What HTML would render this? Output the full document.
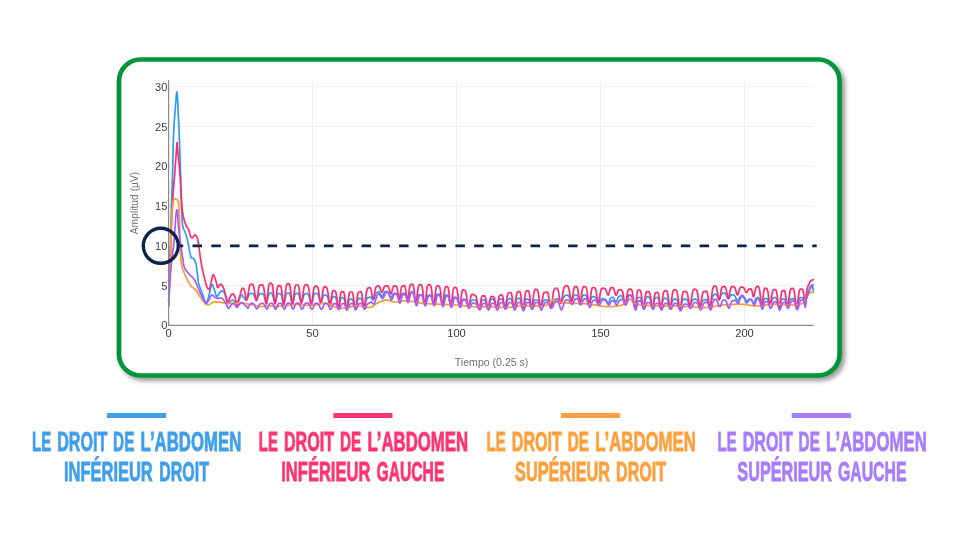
<!DOCTYPE html>
<html lang="fr"><head><meta charset="utf-8"><title>EMG</title>
<style>
html,body{margin:0;padding:0;background:#fff;}
body{width:960px;height:540px;overflow:hidden;position:relative;font-family:"Liberation Sans",sans-serif;}
svg{position:absolute;left:0;top:0;display:block}
.tick{font-family:"Liberation Sans",sans-serif;font-size:10.7px;fill:#3c3c3c}
.ttl{font-family:"Liberation Sans",sans-serif;font-size:10.3px;fill:#707070}
.leg{font-family:"Liberation Sans",sans-serif;font-weight:700;font-size:26.8px;stroke-width:0.8px}
</style></head><body>
<svg width="960" height="540" viewBox="0 0 960 540">
<defs>
<filter id="sh" x="-5%" y="-5%" width="112%" height="115%"><feGaussianBlur in="SourceAlpha" stdDeviation="2.7"/><feOffset dx="3.4" dy="3.4"/><feComponentTransfer><feFuncA type="linear" slope="0.42"/></feComponentTransfer><feMerge><feMergeNode/><feMergeNode in="SourceGraphic"/></feMerge></filter>
</defs>
<rect x="119" y="59.5" width="720.6" height="316" rx="21.5" ry="21.5" fill="#fff" stroke="#04953a" stroke-width="4.7" filter="url(#sh)"/>
<g stroke="#efefef" stroke-width="1"><line x1="169" x2="814" y1="285.5" y2="285.5"/><line x1="169" x2="814" y1="206.0" y2="206.0"/><line x1="169" x2="814" y1="166.2" y2="166.2"/><line x1="169" x2="814" y1="126.5" y2="126.5"/><line x1="169" x2="814" y1="86.7" y2="86.7"/><line x1="312.5" x2="312.5" y1="80.5" y2="325"/><line x1="456.5" x2="456.5" y1="80.5" y2="325"/><line x1="600.5" x2="600.5" y1="80.5" y2="325"/><line x1="744.5" x2="744.5" y1="80.5" y2="325"/></g>
<g fill="none" stroke-width="1.7" stroke-linejoin="round" stroke-linecap="round">
<path d="M168.7 301.0 L168.8 297.9 L169.0 293.9 L169.2 288.9 L169.4 283.3 L169.6 276.9 L169.8 270.0 L170.0 262.0 L170.2 252.9 L170.5 243.1 L170.7 233.1 L171.0 223.6 L171.2 215.0 L171.4 207.3 L171.7 200.0 L171.9 193.1 L172.1 186.7 L172.3 180.6 L172.5 175.0 L172.6 169.9 L172.8 165.4 L172.8 161.2 L172.9 157.4 L173.0 153.7 L173.1 150.0 L173.2 146.4 L173.3 142.9 L173.4 139.6 L173.5 136.3 L173.6 133.2 L173.8 130.0 L173.9 126.8 L174.1 123.7 L174.3 120.7 L174.6 117.7 L174.8 114.8 L175.0 112.0 L175.2 109.3 L175.4 106.6 L175.6 104.0 L175.8 101.5 L176.0 99.4 L176.2 97.5 L176.3 95.9 L176.5 94.6 L176.6 93.4 L176.7 92.6 L176.8 92.1 L176.9 91.9 L177.0 92.1 L177.1 92.6 L177.2 93.4 L177.3 94.6 L177.4 95.9 L177.5 97.5 L177.6 99.4 L177.7 101.5 L177.8 104.0 L178.0 106.6 L178.1 109.3 L178.2 112.0 L178.3 114.7 L178.5 117.5 L178.6 120.3 L178.7 123.4 L178.9 126.6 L179.0 130.0 L179.2 133.8 L179.3 137.8 L179.5 142.1 L179.7 146.4 L179.8 150.8 L180.0 155.0 L180.1 159.2 L180.3 163.3 L180.4 167.5 L180.5 171.7 L180.7 175.8 L180.8 180.0 L180.9 184.2 L181.1 188.5 L181.2 192.8 L181.3 197.0 L181.5 201.1 L181.6 205.0 L181.7 208.8 L181.9 212.6 L182.0 216.2 L182.1 219.6 L182.3 222.5 L182.5 225.0 L182.8 226.8 L183.1 228.0 L183.4 228.9 L183.8 229.5 L184.1 230.2 L184.5 231.0 L184.9 231.9 L185.2 232.8 L185.6 233.6 L186.0 234.5 L186.3 235.5 L186.7 236.7 L187.1 238.2 L187.4 239.8 L187.8 241.6 L188.1 243.4 L188.5 245.3 L188.8 247.0 L189.1 248.7 L189.5 250.6 L189.8 252.4 L190.2 254.1 L190.5 255.6 L190.8 256.7 L191.1 257.4 L191.3 257.8 L191.5 257.9 L191.8 257.9 L192.0 257.9 L192.2 258.0 L192.4 258.1 L192.6 258.1 L192.8 258.1 L193.1 258.1 L193.3 258.3 L193.6 258.6 L193.9 259.1 L194.3 259.7 L194.7 260.4 L195.1 261.3 L195.5 262.2 L195.8 263.3 L196.1 264.5 L196.3 265.9 L196.6 267.3 L196.8 268.9 L197.0 270.4 L197.2 272.0 L197.4 273.6 L197.6 275.3 L197.7 277.0 L197.9 278.7 L198.1 280.3 L198.3 281.7 L198.5 282.9 L198.8 284.0 L199.1 284.9 L199.4 285.8 L199.7 286.7 L200.0 287.5 L200.3 288.3 L200.6 288.9 L200.8 289.6 L201.1 290.2 L201.4 290.9 L201.7 291.7 L202.0 292.6 L202.4 293.7 L202.7 294.8 L203.1 295.9 L203.5 297.0 L203.8 298.0 L204.1 299.0 L204.5 300.0 L204.9 301.0 L205.2 301.9 L205.5 302.6 L205.8 303.0 L206.0 303.1 L206.3 303.0 L206.4 302.8 L206.6 302.4 L206.8 301.9 L207.0 301.5 L207.2 301.1 L207.4 300.7 L207.6 300.3 L207.8 299.7 L208.1 299.1 L208.3 298.3 L208.6 297.3 L208.8 296.2 L209.1 294.9 L209.4 293.5 L209.7 292.2 L210.0 291.0 L210.3 289.7 L210.6 288.2 L211.0 286.8 L211.3 285.6 L211.6 284.6 L212.0 284.2 L212.4 284.4 L212.7 285.0 L213.1 286.0 L213.5 287.2 L213.9 288.4 L214.3 289.5 L214.7 290.7 L215.1 292.1 L215.5 293.5 L215.9 294.8 L216.3 295.9 L216.7 296.5 L217.1 296.6 L217.5 296.2 L217.8 295.6 L218.2 294.8 L218.6 294.1 L219.0 293.5 L219.4 293.0 L219.9 292.4 L220.3 291.9 L220.8 291.4 L221.3 291.0 L221.7 290.8 L222.1 290.8 L222.5 291.0 L222.9 291.3 L223.3 291.7 L223.7 292.1 L224.0 292.5 L224.3 292.9 L224.6 293.2 L224.9 293.6 L225.2 294.1 L225.5 294.7 L225.8 295.5 L226.2 296.6 L226.6 298.1 L227.0 299.7 L227.5 301.2 L227.9 302.5 L228.3 303.3 L228.7 303.6 L229.0 303.4 L229.3 303.0 L229.6 302.4 L230.0 301.9 L230.3 301.5 L230.7 301.2 L231.0 300.9 L231.4 300.5 L231.8 300.3 L232.1 300.1 L232.5 300.0 L232.9 300.1 L233.2 300.3 L233.6 300.5 L233.9 300.9 L234.3 301.2 L234.6 301.5 L234.9 301.9 L235.3 302.3 L235.6 302.8 L236.0 303.2 L236.3 303.4 L236.7 303.3 L237.1 302.9 L237.5 302.1 L237.9 301.2 L238.4 300.2 L238.8 299.3 L239.2 298.5 L239.6 297.8 L240.0 297.0 L240.5 296.3 L240.9 295.7 L241.3 295.2 L241.7 295.0 L242.1 295.1 L242.4 295.4 L242.8 295.9 L243.1 296.4 L243.5 297.0 L243.8 297.5 L244.2 298.0 L244.5 298.5 L244.9 299.0 L245.3 299.5 L245.6 299.9 L245.8 300.2 L246.7 298.8 L247.2 298.5 L247.7 297.7 L248.2 296.6 L248.7 295.4 L249.2 294.5 L249.7 293.9 L250.2 293.5 L250.7 293.4 L251.2 293.3 L251.7 293.4 L252.2 293.4 L252.7 293.5 L253.2 293.8 L253.7 294.3 L254.2 295.3 L254.7 296.6 L255.2 297.9 L255.7 298.9 L256.2 299.5 L256.7 299.5 L257.2 298.9 L257.7 297.8 L258.2 296.5 L258.7 295.3 L259.2 294.4 L259.7 293.9 L260.2 293.7 L260.7 293.6 L261.2 293.7 L261.7 293.7 L262.2 293.7 L262.7 293.8 L263.2 294.2 L263.7 295.0 L264.2 296.4 L264.7 298.3 L265.2 300.2 L265.7 301.9 L266.2 302.8 L266.7 302.5 L267.2 301.0 L267.7 298.7 L268.2 296.4 L268.7 294.6 L269.2 293.6 L269.7 293.1 L270.2 293.0 L270.7 293.0 L271.2 293.1 L271.7 293.2 L272.2 293.7 L272.7 294.9 L273.2 296.7 L273.7 299.0 L274.2 301.2 L274.7 302.6 L275.2 302.8 L275.7 301.7 L276.2 299.6 L276.7 297.4 L277.2 295.5 L277.7 294.3 L278.2 293.8 L278.7 293.6 L279.2 293.7 L279.7 293.6 L280.2 293.6 L280.7 293.9 L281.2 294.8 L281.7 296.4 L282.2 298.7 L282.7 301.1 L283.2 303.0 L283.7 303.7 L284.2 302.9 L284.7 301.0 L285.2 298.5 L285.7 296.2 L286.2 294.4 L286.7 293.5 L287.2 293.1 L287.7 293.0 L288.2 293.0 L288.7 293.0 L289.2 293.2 L289.7 293.8 L290.2 295.1 L290.7 297.1 L291.2 299.6 L291.7 302.0 L292.2 303.4 L292.7 303.5 L293.2 302.2 L293.7 300.0 L294.2 297.5 L294.7 295.5 L295.2 294.1 L295.7 293.5 L296.2 293.3 L296.7 293.3 L297.2 293.4 L297.7 293.4 L298.2 293.6 L298.7 294.3 L299.2 295.6 L299.7 297.5 L300.2 299.5 L300.7 301.2 L301.2 302.0 L301.7 301.8 L302.2 300.9 L302.7 299.3 L303.2 297.5 L303.7 295.9 L304.2 294.7 L304.7 294.0 L305.2 293.7 L305.7 293.7 L306.2 293.7 L306.7 293.6 L307.2 293.7 L307.7 293.8 L308.2 294.3 L308.7 295.3 L309.2 296.9 L309.7 298.9 L310.2 301.0 L310.7 302.7 L311.2 303.6 L311.7 303.3 L312.2 301.9 L312.7 299.7 L313.2 297.5 L313.7 295.6 L314.2 294.3 L314.7 293.7 L315.2 293.4 L315.7 293.4 L316.2 293.3 L316.7 293.3 L317.2 293.5 L317.7 294.0 L318.2 294.9 L318.7 296.4 L319.2 298.2 L319.7 300.0 L320.2 301.4 L320.7 302.0 L321.2 301.9 L321.7 300.9 L322.2 299.3 L322.7 297.6 L323.2 296.2 L323.7 295.3 L324.2 295.0 L324.7 295.0 L325.2 295.0 L325.7 295.1 L326.2 295.2 L326.7 295.5 L327.2 296.1 L327.7 297.3 L328.2 299.0 L328.7 301.1 L329.2 303.0 L329.7 304.3 L330.2 304.5 L330.7 303.6 L331.2 301.7 L331.7 299.6 L332.2 297.9 L332.7 296.9 L333.2 296.6 L333.7 296.6 L334.2 296.7 L334.7 296.7 L335.2 296.9 L335.7 297.5 L336.2 298.9 L336.7 301.1 L337.2 303.9 L337.7 306.4 L338.2 307.8 L338.7 307.5 L339.2 305.7 L339.7 303.1 L340.2 300.6 L340.7 298.7 L341.2 297.8 L341.7 297.5 L342.2 297.5 L342.7 297.6 L343.2 297.8 L343.7 298.1 L344.2 299.0 L344.7 300.8 L345.2 303.2 L345.7 305.9 L346.2 308.0 L346.7 308.7 L347.2 307.9 L347.7 306.0 L348.2 303.6 L348.7 301.4 L349.2 300.0 L349.7 299.3 L350.2 299.1 L350.7 299.1 L351.2 299.1 L351.7 299.1 L352.2 299.3 L352.7 299.9 L353.2 301.2 L353.7 303.2 L354.2 305.6 L354.7 307.6 L355.2 308.6 L355.7 308.3 L356.2 306.7 L356.7 304.4 L357.2 302.1 L357.7 300.2 L358.2 299.1 L358.7 298.6 L359.2 298.4 L359.7 298.4 L360.2 298.3 L360.7 298.3 L361.2 298.7 L361.7 299.6 L362.2 301.2 L362.7 303.4 L363.2 305.6 L363.7 307.3 L364.2 307.8 L364.7 306.7 L365.2 304.7 L365.7 302.4 L366.2 300.4 L366.7 298.9 L367.2 298.1 L367.7 297.7 L368.2 297.6 L368.7 297.5 L369.2 297.5 L369.7 297.2 L370.2 297.1 L370.7 297.2 L371.2 297.7 L371.7 298.5 L372.2 299.3 L372.7 299.9 L373.2 299.9 L373.7 299.5 L374.2 298.5 L374.7 297.0 L375.2 295.5 L375.7 294.2 L376.2 293.3 L376.7 292.8 L377.2 292.4 L377.7 292.1 L378.2 291.8 L378.7 291.7 L379.2 292.0 L379.7 292.6 L380.2 293.6 L380.7 294.9 L381.2 295.9 L381.7 296.5 L382.2 296.5 L382.7 296.0 L383.2 294.9 L383.7 293.7 L384.2 292.6 L384.7 291.9 L385.2 291.5 L385.7 291.4 L386.2 291.4 L386.7 291.3 L387.2 291.5 L387.7 291.8 L388.2 292.4 L388.7 293.3 L389.2 294.6 L389.7 296.0 L390.2 297.1 L390.7 297.7 L391.2 297.6 L391.7 296.8 L392.2 295.8 L392.7 294.8 L393.2 294.1 L393.7 293.9 L394.2 293.9 L394.7 294.1 L395.2 294.1 L395.7 294.1 L396.2 294.2 L396.7 294.5 L397.2 295.1 L397.7 296.2 L398.2 297.4 L398.7 298.4 L399.2 298.7 L399.7 298.3 L400.2 297.3 L400.7 296.0 L401.2 294.8 L401.7 294.0 L402.2 293.6 L402.7 293.4 L403.2 293.3 L403.7 293.3 L404.2 293.3 L404.7 293.4 L405.2 294.0 L405.7 295.0 L406.2 296.3 L406.7 297.7 L407.2 298.5 L407.7 298.7 L408.2 298.1 L408.7 296.8 L409.2 295.3 L409.7 293.9 L410.2 293.1 L410.7 292.7 L411.2 292.6 L411.7 292.5 L412.2 292.7 L412.7 292.9 L413.2 293.5 L413.7 294.7 L414.2 296.6 L414.7 298.8 L415.2 300.8 L415.7 301.9 L416.2 301.8 L416.7 300.6 L417.2 298.9 L417.7 297.1 L418.2 295.7 L418.7 295.0 L419.2 294.7 L419.7 294.8 L420.2 294.9 L420.7 295.0 L421.2 295.1 L421.7 295.4 L422.2 296.1 L422.7 297.6 L423.2 299.5 L423.7 301.5 L424.2 303.1 L424.7 303.7 L425.2 303.1 L425.7 301.5 L426.2 299.5 L426.7 297.6 L427.2 296.2 L427.7 295.4 L428.2 295.1 L428.7 295.0 L429.2 295.0 L429.7 295.0 L430.2 295.0 L430.7 295.3 L431.2 296.2 L431.7 297.6 L432.2 299.6 L432.7 301.7 L433.2 303.2 L433.7 303.7 L434.2 303.0 L434.7 301.4 L435.2 299.2 L435.7 297.1 L436.2 295.5 L436.7 294.6 L437.2 294.3 L437.7 294.2 L438.2 294.2 L438.7 294.2 L439.2 294.4 L439.7 295.0 L440.2 296.2 L440.7 298.2 L441.2 300.6 L441.7 302.8 L442.2 304.3 L442.7 304.4 L443.2 303.2 L443.7 300.9 L444.2 298.5 L444.7 296.6 L445.2 295.4 L445.7 295.0 L446.2 295.0 L446.7 295.0 L447.2 295.2 L447.7 295.4 L448.2 296.1 L448.7 297.5 L449.2 299.6 L449.7 302.1 L450.2 304.2 L450.7 305.3 L451.2 305.0 L451.7 303.7 L452.2 301.7 L452.7 299.7 L453.2 298.3 L453.7 297.5 L454.2 297.2 L454.7 297.3 L455.2 297.4 L455.7 297.6 L456.2 297.8 L456.7 298.2 L457.2 299.0 L457.7 300.4 L458.2 302.1 L458.7 303.7 L459.2 305.0 L459.7 305.4 L460.2 304.8 L460.7 303.6 L461.2 302.2 L461.7 300.9 L462.2 300.1 L462.7 299.8 L463.2 299.7 L463.7 299.9 L464.2 300.0 L464.7 300.0 L465.2 300.1 L465.7 300.5 L466.2 301.2 L466.7 302.4 L467.2 303.7 L467.7 304.8 L468.2 305.3 L468.7 305.3 L469.2 304.8 L469.7 304.0 L470.2 302.9 L470.7 301.9 L471.2 301.1 L471.7 300.5 L472.2 300.2 L472.7 300.0 L473.2 300.0 L473.7 300.0 L474.2 300.0 L474.7 300.0 L475.2 300.1 L475.7 300.5 L476.2 301.1 L476.7 302.1 L477.2 303.5 L477.7 305.0 L478.2 306.4 L478.7 307.5 L479.2 307.9 L479.7 307.3 L480.2 305.8 L480.7 303.9 L481.2 302.2 L481.7 301.0 L482.2 300.3 L482.7 300.0 L483.2 300.0 L483.7 300.0 L484.2 299.9 L484.7 300.0 L485.2 300.4 L485.7 301.3 L486.2 302.8 L486.7 304.7 L487.2 306.5 L487.7 307.7 L488.2 307.8 L488.7 306.7 L489.2 304.8 L489.7 302.8 L490.2 301.1 L490.7 299.9 L491.2 299.4 L491.7 299.2 L492.2 299.2 L492.7 299.2 L493.2 299.2 L493.7 299.5 L494.2 300.2 L494.7 301.5 L495.2 303.3 L495.7 305.2 L496.2 306.6 L496.7 307.0 L497.2 306.4 L497.7 304.8 L498.2 302.8 L498.7 301.0 L499.2 299.9 L499.7 299.3 L500.2 299.2 L500.7 299.2 L501.2 299.1 L501.7 299.2 L502.2 299.4 L502.7 300.2 L503.2 301.7 L503.7 303.6 L504.2 305.6 L504.7 306.8 L505.2 307.0 L505.7 306.1 L506.2 304.5 L506.7 302.6 L507.2 300.9 L507.7 299.7 L508.2 299.0 L508.7 298.8 L509.2 298.7 L509.7 298.7 L510.2 298.7 L510.7 298.7 L511.2 299.1 L511.7 300.1 L512.2 301.6 L512.7 303.7 L513.2 305.8 L513.7 307.3 L514.2 307.9 L514.7 307.2 L515.2 305.5 L515.7 303.2 L516.2 301.1 L516.7 299.6 L517.2 298.7 L517.7 298.4 L518.2 298.3 L518.7 298.4 L519.2 298.4 L519.7 298.6 L520.2 299.2 L520.7 300.4 L521.2 302.4 L521.7 304.7 L522.2 307.0 L522.7 308.4 L523.2 308.5 L523.7 307.3 L524.2 305.1 L524.7 302.8 L525.2 300.9 L525.7 299.7 L526.2 299.2 L526.7 299.1 L527.2 299.1 L527.7 299.2 L528.2 299.3 L528.7 299.6 L529.2 300.4 L529.7 301.7 L530.2 303.5 L530.7 305.4 L531.2 306.7 L531.7 307.0 L532.2 306.4 L532.7 305.1 L533.2 303.4 L533.7 301.9 L534.2 300.8 L534.7 300.2 L535.2 300.0 L535.7 300.0 L536.2 300.0 L536.7 300.0 L537.2 300.1 L537.7 300.3 L538.2 300.9 L538.7 302.0 L539.2 303.3 L539.7 304.6 L540.2 305.5 L540.7 305.8 L541.2 305.5 L541.7 304.7 L542.2 303.6 L542.7 302.4 L543.2 301.3 L543.7 300.6 L544.2 300.2 L544.7 300.0 L545.2 300.0 L545.7 299.9 L546.2 299.9 L546.7 299.9 L547.2 300.0 L547.7 300.4 L548.2 301.1 L548.7 302.2 L549.2 303.7 L549.7 305.1 L550.2 306.4 L550.7 307.0 L551.2 306.6 L551.7 305.5 L552.2 304.0 L552.7 302.4 L553.2 301.1 L553.7 300.1 L554.2 299.6 L554.7 299.3 L555.2 299.2 L555.7 299.2 L556.2 299.0 L556.7 298.9 L557.2 298.8 L557.7 298.8 L558.2 299.2 L558.7 299.8 L559.2 300.7 L559.7 301.5 L560.2 302.1 L560.7 302.3 L561.2 302.1 L561.7 301.4 L562.2 300.4 L562.7 299.3 L563.2 298.1 L563.7 297.1 L564.2 296.4 L564.7 295.9 L565.2 295.6 L565.7 295.4 L566.2 295.2 L566.7 295.0 L567.2 295.0 L567.7 295.1 L568.2 295.4 L568.7 295.9 L569.2 296.7 L569.7 297.7 L570.2 298.7 L570.7 299.6 L571.2 300.2 L571.7 300.4 L572.2 300.0 L572.7 299.0 L573.2 297.6 L573.7 296.4 L574.2 295.5 L574.7 295.1 L575.2 295.0 L575.7 295.0 L576.2 295.0 L576.7 295.0 L577.2 295.3 L577.7 296.0 L578.2 297.2 L578.7 298.9 L579.2 300.6 L579.7 301.8 L580.2 302.0 L580.7 301.3 L581.2 299.9 L581.7 298.3 L582.2 296.8 L582.7 295.8 L583.2 295.2 L583.7 295.0 L584.2 295.0 L584.7 295.0 L585.2 295.1 L585.7 295.3 L586.2 295.8 L586.7 296.7 L587.2 298.1 L587.7 300.0 L588.2 301.8 L588.7 303.2 L589.2 303.7 L589.7 303.1 L590.2 301.7 L590.7 300.0 L591.2 298.5 L591.7 297.3 L592.2 296.7 L592.7 296.6 L593.2 296.6 L593.7 296.7 L594.2 296.8 L594.7 297.0 L595.2 297.3 L595.7 297.9 L596.2 298.8 L596.7 300.1 L597.2 301.3 L597.7 302.3 L598.2 302.8 L598.7 302.7 L599.2 302.1 L599.7 301.2 L600.2 300.3 L600.7 299.5 L601.2 299.0 L601.7 298.8 L602.2 298.7 L602.7 298.8 L603.2 298.9 L603.7 299.1 L604.2 299.2 L604.7 299.1 L605.2 299.3 L605.7 299.6 L606.2 300.3 L606.7 301.1 L607.2 302.1 L607.7 302.8 L608.2 303.3 L608.7 303.0 L609.2 301.8 L609.7 300.3 L610.2 299.0 L610.7 298.1 L611.2 297.7 L611.7 297.6 L612.2 297.5 L612.7 297.4 L613.2 297.4 L613.7 297.8 L614.2 298.7 L614.7 300.0 L615.2 301.2 L615.7 301.8 L616.2 301.7 L616.7 301.0 L617.2 299.9 L617.7 298.6 L618.2 297.5 L618.7 296.7 L619.2 296.3 L619.7 296.1 L620.2 296.0 L620.7 295.9 L621.2 295.8 L621.7 295.9 L622.2 296.4 L622.7 297.3 L623.2 298.8 L623.7 300.6 L624.2 302.3 L624.7 303.4 L625.2 303.7 L625.7 303.1 L626.2 301.7 L626.7 299.9 L627.2 298.2 L627.7 296.7 L628.2 295.8 L628.7 295.3 L629.2 295.1 L629.7 295.0 L630.2 295.1 L630.7 295.2 L631.2 295.5 L631.7 296.0 L632.2 297.0 L632.7 298.7 L633.2 300.9 L633.7 303.3 L634.2 305.4 L634.7 306.7 L635.2 306.9 L635.7 305.5 L636.2 303.2 L636.7 300.7 L637.2 298.8 L637.7 297.7 L638.2 297.3 L638.7 297.4 L639.2 297.5 L639.7 297.5 L640.2 297.5 L640.7 298.0 L641.2 299.3 L641.7 301.3 L642.2 303.7 L642.7 305.9 L643.2 307.0 L643.7 306.7 L644.2 305.2 L644.7 303.1 L645.2 300.8 L645.7 298.9 L646.2 297.6 L646.7 297.0 L647.2 296.8 L647.7 296.7 L648.2 296.7 L648.7 296.7 L649.2 297.0 L649.7 297.7 L650.2 299.0 L650.7 301.0 L651.2 303.4 L651.7 305.5 L652.2 306.8 L652.7 306.9 L653.2 305.6 L653.7 303.4 L654.2 300.9 L654.7 299.0 L655.2 297.9 L655.7 297.5 L656.2 297.5 L656.7 297.5 L657.2 297.6 L657.7 297.7 L658.2 298.3 L658.7 299.6 L659.2 301.6 L659.7 303.9 L660.2 305.9 L660.7 307.0 L661.2 306.7 L661.7 305.4 L662.2 303.5 L662.7 301.5 L663.2 299.9 L663.7 298.9 L664.2 298.4 L664.7 298.3 L665.2 298.4 L665.7 298.4 L666.2 298.5 L666.7 298.7 L667.2 299.3 L667.7 300.4 L668.2 302.1 L668.7 304.0 L669.2 305.8 L669.7 306.8 L670.2 307.0 L670.7 306.3 L671.2 304.9 L671.7 303.3 L672.2 301.7 L672.7 300.4 L673.2 299.6 L673.7 299.3 L674.2 299.2 L674.7 299.2 L675.2 299.2 L675.7 299.2 L676.2 299.3 L676.7 299.6 L677.2 300.4 L677.7 301.7 L678.2 303.6 L678.7 305.6 L679.2 307.3 L679.7 308.5 L680.2 308.5 L680.7 307.5 L681.2 305.7 L681.7 303.7 L682.2 301.9 L682.7 300.5 L683.2 299.7 L683.7 299.3 L684.2 299.2 L684.7 299.2 L685.2 299.2 L685.7 299.2 L686.2 299.3 L686.7 299.5 L687.2 300.1 L687.7 301.0 L688.2 302.1 L688.7 303.2 L689.2 304.1 L689.7 304.6 L690.2 304.5 L690.7 304.0 L691.2 303.1 L691.7 302.0 L692.2 300.9 L692.7 300.1 L693.2 299.5 L693.7 299.3 L694.2 299.2 L694.7 299.2 L695.2 299.2 L695.7 299.3 L696.2 299.4 L696.7 299.7 L697.2 300.2 L697.7 301.1 L698.2 302.2 L698.7 303.5 L699.2 304.5 L699.7 305.2 L700.2 305.4 L700.7 304.9 L701.2 304.0 L701.7 302.8 L702.2 301.7 L702.7 300.8 L703.2 300.2 L703.7 300.0 L704.2 300.0 L704.7 300.0 L705.2 299.9 L705.7 299.6 L706.2 299.4 L706.7 299.4 L707.2 299.8 L707.7 300.7 L708.2 302.2 L708.7 304.0 L709.2 305.7 L709.7 306.8 L710.2 306.7 L710.7 305.2 L711.2 302.9 L711.7 300.3 L712.2 298.1 L712.7 296.5 L713.2 295.5 L713.7 295.0 L714.2 294.6 L714.7 294.3 L715.2 294.1 L715.7 294.2 L716.2 294.5 L716.7 295.1 L717.2 296.1 L717.7 297.3 L718.2 298.3 L718.7 298.8 L719.2 298.7 L719.7 298.3 L720.2 297.4 L720.7 296.2 L721.2 295.0 L721.7 294.1 L722.2 293.5 L722.7 293.2 L723.2 293.1 L723.7 293.1 L724.2 293.0 L724.7 293.2 L725.2 293.4 L725.7 294.0 L726.2 294.9 L726.7 296.1 L727.2 297.4 L727.7 298.4 L728.2 298.9 L728.7 298.8 L729.2 298.2 L729.7 297.2 L730.2 296.2 L730.7 295.4 L731.2 294.9 L731.7 294.7 L732.2 294.8 L732.7 294.9 L733.2 295.0 L733.7 295.1 L734.2 295.3 L734.7 295.7 L735.2 296.4 L735.7 297.5 L736.2 298.7 L736.7 299.9 L737.2 300.7 L737.7 300.8 L738.2 300.4 L738.7 299.5 L739.2 298.5 L739.7 297.5 L740.2 296.9 L740.7 296.6 L741.2 296.6 L741.7 296.7 L742.2 296.8 L742.7 297.0 L743.2 297.2 L743.7 297.6 L744.2 298.3 L744.7 299.3 L745.2 300.6 L745.7 301.8 L746.2 302.8 L746.7 303.2 L747.2 302.6 L747.7 301.2 L748.2 299.9 L748.7 299.2 L749.2 299.0 L749.7 299.1 L750.2 299.1 L750.7 299.0 L751.2 299.2 L751.7 299.9 L752.2 301.1 L752.7 302.5 L753.2 303.4 L753.7 303.3 L754.2 302.5 L754.7 301.2 L755.2 299.8 L755.7 298.7 L756.2 298.0 L756.7 297.7 L757.2 297.6 L757.7 297.5 L758.2 297.6 L758.7 297.9 L759.2 298.5 L759.7 299.7 L760.2 301.4 L760.7 303.3 L761.2 304.8 L761.7 305.4 L762.2 304.7 L762.7 303.1 L763.2 301.4 L763.7 299.9 L764.2 299.0 L764.7 298.6 L765.2 298.6 L765.7 298.6 L766.2 298.6 L766.7 298.6 L767.2 298.7 L767.7 299.3 L768.2 300.3 L768.7 301.6 L769.2 302.8 L769.7 303.6 L770.2 303.7 L770.7 303.2 L771.2 302.2 L771.7 300.8 L772.2 299.5 L772.7 298.5 L773.2 298.0 L773.7 297.7 L774.2 297.6 L774.7 297.5 L775.2 297.5 L775.7 297.7 L776.2 298.2 L776.7 299.2 L777.2 300.8 L777.7 302.8 L778.2 304.8 L778.7 306.4 L779.2 307.0 L779.7 306.2 L780.2 304.4 L780.7 302.3 L781.2 300.6 L781.7 299.5 L782.2 299.1 L782.7 299.1 L783.2 299.1 L783.7 299.1 L784.2 299.2 L784.7 299.4 L785.2 300.1 L785.7 301.3 L786.2 302.8 L786.7 304.3 L787.2 305.2 L787.7 305.3 L788.2 304.7 L788.7 303.4 L789.2 301.9 L789.7 300.5 L790.2 299.5 L790.7 299.0 L791.2 298.7 L791.7 298.7 L792.2 298.6 L792.7 298.6 L793.2 298.6 L793.7 298.9 L794.2 299.7 L794.7 301.1 L795.2 303.0 L795.7 305.0 L796.2 306.5 L796.7 307.0 L797.2 306.4 L797.7 304.8 L798.2 302.7 L798.7 300.7 L799.2 299.1 L799.7 298.1 L800.2 297.7 L800.7 297.5 L801.2 297.5 L801.7 297.5 L802.2 297.6 L802.7 297.9 L803.2 298.7 L803.7 300.1 L804.2 302.1 L804.7 304.3 L805.2 306.1 L806.0 299.0 L806.2 298.3 L806.5 297.4 L806.9 296.3 L807.3 295.2 L807.6 294.0 L808.0 293.0 L808.3 292.0 L808.7 291.0 L809.0 290.0 L809.4 289.1 L809.7 288.2 L810.0 287.5 L810.3 286.9 L810.6 286.3 L810.9 285.8 L811.2 285.4 L811.5 285.2 L811.7 285.0 L811.9 285.0 L812.1 285.1 L812.2 285.3 L812.3 285.6 L812.5 286.0 L812.6 286.5 L812.7 287.1 L812.9 287.9 L813.0 288.7 L813.1 289.6 L813.2 290.3 L813.3 290.8" stroke="#2b9df4"/>
<path d="M168.7 301.0 L168.8 298.8 L168.9 295.9 L169.1 292.4 L169.3 288.4 L169.4 284.3 L169.6 280.0 L169.8 275.5 L169.9 270.7 L170.1 265.7 L170.2 260.5 L170.4 255.2 L170.6 250.0 L170.8 244.7 L171.0 239.2 L171.2 233.7 L171.4 228.2 L171.6 223.0 L171.8 218.0 L172.0 213.3 L172.3 208.9 L172.5 204.6 L172.7 200.6 L173.0 196.7 L173.2 193.0 L173.4 189.6 L173.7 186.4 L173.9 183.4 L174.1 180.6 L174.4 177.8 L174.6 175.0 L174.8 172.2 L175.0 169.4 L175.2 166.6 L175.4 164.0 L175.6 161.4 L175.8 159.0 L176.0 156.7 L176.1 154.4 L176.3 152.3 L176.4 150.3 L176.6 148.5 L176.7 147.0 L176.8 145.7 L176.9 144.6 L176.9 143.8 L177.0 143.1 L177.0 142.7 L177.1 142.6 L177.2 142.7 L177.2 143.2 L177.3 143.8 L177.3 144.7 L177.4 145.8 L177.5 147.0 L177.6 148.4 L177.8 150.1 L177.9 152.0 L178.1 154.0 L178.3 156.2 L178.5 158.5 L178.7 160.8 L179.0 163.1 L179.2 165.6 L179.5 168.3 L179.7 171.4 L180.0 175.0 L180.3 179.4 L180.6 184.7 L180.8 190.3 L181.1 195.9 L181.4 200.9 L181.7 205.0 L182.0 208.0 L182.2 210.3 L182.5 212.0 L182.8 213.4 L183.0 214.7 L183.3 216.0 L183.5 217.3 L183.8 218.3 L184.0 219.2 L184.2 220.0 L184.4 220.9 L184.7 221.7 L185.0 222.6 L185.3 223.5 L185.7 224.4 L186.0 225.2 L186.4 226.0 L186.7 226.7 L187.0 227.3 L187.3 227.7 L187.7 228.0 L188.0 228.4 L188.3 228.9 L188.6 229.5 L188.9 230.4 L189.2 231.4 L189.5 232.5 L189.7 233.6 L190.0 234.7 L190.3 235.5 L190.6 236.2 L190.8 236.7 L191.1 237.2 L191.4 237.6 L191.6 237.8 L191.9 238.0 L192.2 238.0 L192.4 237.8 L192.7 237.6 L192.9 237.2 L193.2 236.9 L193.4 236.6 L193.6 236.3 L193.9 235.9 L194.1 235.6 L194.3 235.2 L194.6 235.0 L194.8 234.9 L195.1 234.9 L195.3 235.0 L195.6 235.2 L195.9 235.5 L196.1 235.8 L196.4 236.3 L196.7 236.8 L196.9 237.3 L197.2 237.9 L197.4 238.6 L197.7 239.6 L198.0 241.0 L198.3 242.8 L198.6 245.1 L199.0 247.6 L199.3 250.2 L199.7 252.7 L200.0 255.0 L200.3 257.0 L200.6 259.0 L200.9 260.8 L201.2 262.6 L201.5 264.3 L201.8 266.0 L202.1 267.6 L202.4 269.1 L202.7 270.5 L203.0 271.9 L203.3 273.4 L203.7 275.0 L204.1 276.8 L204.6 278.9 L205.2 281.0 L205.7 283.0 L206.2 284.8 L206.7 286.2 L207.2 287.3 L207.6 288.1 L208.0 288.8 L208.4 289.2 L208.8 289.3 L209.2 289.2 L209.5 288.7 L209.8 287.9 L210.1 286.8 L210.4 285.5 L210.7 284.2 L211.0 283.0 L211.3 281.6 L211.7 280.1 L212.0 278.4 L212.3 276.9 L212.7 275.7 L213.0 275.0 L213.3 274.8 L213.7 275.1 L214.0 275.6 L214.4 276.4 L214.7 277.2 L215.0 278.0 L215.3 278.8 L215.6 279.8 L215.9 280.8 L216.2 281.9 L216.5 282.9 L216.7 283.8 L216.9 284.6 L217.0 285.4 L217.2 286.2 L217.3 286.8 L217.4 287.3 L217.6 287.6 L217.8 287.6 L218.0 287.5 L218.3 287.2 L218.5 286.7 L218.8 286.3 L219.0 286.0 L219.2 285.7 L219.4 285.3 L219.6 284.9 L219.8 284.5 L220.0 284.3 L220.3 284.2 L220.6 284.3 L221.0 284.5 L221.4 284.7 L221.8 285.1 L222.2 285.5 L222.5 286.0 L222.8 286.5 L223.1 287.0 L223.4 287.5 L223.6 288.1 L223.9 288.9 L224.2 289.8 L224.5 290.9 L224.8 292.3 L225.1 293.8 L225.4 295.3 L225.7 296.8 L226.0 298.0 L226.3 299.2 L226.5 300.3 L226.7 301.4 L227.0 302.4 L227.2 303.0 L227.5 303.3 L227.8 303.1 L228.1 302.6 L228.3 301.8 L228.6 300.8 L229.0 299.9 L229.3 299.0 L229.7 298.2 L230.1 297.2 L230.5 296.3 L230.9 295.4 L231.3 294.7 L231.7 294.2 L232.1 294.0 L232.6 293.9 L233.0 294.0 L233.4 294.3 L233.8 294.7 L234.2 295.2 L234.5 295.9 L234.9 296.8 L235.2 297.8 L235.4 298.9 L235.7 300.0 L236.0 301.0 L236.3 302.1 L236.5 303.3 L236.7 304.5 L237.0 305.6 L237.2 306.2 L237.5 306.3 L237.8 305.7 L238.1 304.5 L238.4 303.0 L238.7 301.2 L239.0 299.5 L239.3 298.0 L239.6 296.6 L240.0 295.2 L240.4 293.7 L240.7 292.4 L241.0 291.3 L241.2 290.5 L242.2 288.3 L242.7 288.3 L243.2 288.2 L243.7 288.6 L244.2 289.7 L244.7 291.7 L245.2 294.4 L245.7 297.2 L246.2 299.3 L246.7 300.0 L247.2 299.1 L247.7 296.6 L248.2 293.3 L248.7 290.0 L249.2 287.4 L249.7 285.6 L250.2 284.7 L250.7 284.3 L251.2 284.2 L251.7 284.2 L252.2 284.3 L252.7 284.5 L253.2 285.1 L253.7 286.5 L254.2 289.0 L254.7 292.4 L255.2 296.1 L255.7 299.2 L256.2 300.7 L256.7 300.4 L257.2 298.4 L257.7 295.2 L258.2 291.7 L258.7 288.6 L259.2 286.5 L259.7 285.4 L260.2 285.0 L260.7 284.9 L261.2 285.0 L261.7 285.0 L262.2 284.9 L262.7 285.0 L263.2 285.7 L263.7 287.4 L264.2 290.3 L264.7 294.3 L265.2 298.6 L265.7 302.1 L266.2 304.0 L266.7 303.3 L267.2 299.8 L267.7 294.7 L268.2 289.8 L268.7 286.1 L269.2 284.1 L269.7 283.3 L270.2 283.1 L270.7 283.1 L271.2 283.2 L271.7 283.6 L272.2 284.5 L272.7 286.8 L273.2 290.6 L273.7 295.6 L274.2 300.5 L274.7 303.6 L275.2 303.9 L275.7 301.4 L276.2 297.0 L276.7 292.3 L277.2 288.6 L277.7 286.5 L278.2 285.7 L278.7 285.7 L279.2 285.8 L279.7 285.7 L280.2 285.7 L280.7 286.0 L281.2 287.4 L281.7 290.4 L282.2 294.8 L282.7 299.7 L283.2 303.6 L283.7 305.0 L284.2 303.3 L284.7 299.2 L285.2 294.1 L285.7 289.5 L286.2 286.3 L286.7 284.6 L287.2 284.0 L287.7 283.8 L288.2 283.7 L288.7 283.7 L289.2 284.0 L289.7 285.0 L290.2 287.4 L290.7 291.3 L291.2 296.4 L291.7 301.3 L292.2 304.4 L292.7 304.7 L293.2 302.0 L293.7 297.4 L294.2 292.5 L294.7 288.5 L295.2 286.1 L295.7 285.1 L296.2 285.0 L296.7 285.0 L297.2 285.0 L297.7 285.0 L298.2 285.3 L298.7 286.5 L299.2 288.9 L299.7 292.8 L300.2 297.4 L300.7 301.3 L301.2 303.3 L301.7 302.8 L302.2 300.4 L302.7 296.7 L303.2 292.6 L303.7 289.1 L304.2 286.7 L304.7 285.3 L305.2 284.8 L305.7 284.7 L306.2 284.7 L306.7 284.8 L307.2 284.9 L307.7 285.2 L308.2 286.2 L308.7 288.1 L309.2 291.2 L309.7 295.3 L310.2 299.6 L310.7 303.1 L311.2 304.9 L311.7 304.3 L312.2 301.4 L312.7 297.2 L313.2 292.9 L313.7 289.5 L314.2 287.3 L314.7 286.4 L315.2 286.2 L315.7 286.2 L316.2 286.3 L316.7 286.3 L317.2 286.5 L317.7 287.1 L318.2 288.5 L318.7 291.1 L319.2 294.7 L319.7 298.5 L320.2 301.7 L320.7 303.3 L321.2 302.8 L321.7 300.3 L322.2 296.5 L322.7 292.6 L323.2 289.5 L323.7 287.7 L324.2 286.9 L324.7 286.7 L325.2 286.8 L325.7 287.0 L326.2 287.2 L326.7 287.7 L327.2 288.9 L327.7 291.1 L328.2 294.6 L328.7 298.8 L329.2 302.8 L329.7 305.3 L330.2 305.7 L330.7 303.5 L331.2 299.6 L331.7 295.5 L332.2 292.5 L332.7 290.9 L333.2 290.5 L333.7 290.6 L334.2 290.8 L334.7 290.9 L335.2 291.1 L335.7 291.9 L336.2 294.0 L336.7 297.7 L337.2 302.3 L337.7 306.6 L338.2 309.0 L338.7 308.4 L339.2 305.1 L339.7 300.6 L340.2 296.3 L340.7 293.4 L341.2 292.1 L341.7 291.7 L342.2 291.7 L342.7 291.7 L343.2 291.7 L343.7 292.1 L344.2 293.3 L344.7 296.0 L345.2 300.1 L345.7 304.9 L346.2 308.6 L346.7 310.0 L347.2 308.4 L347.7 304.7 L348.2 300.2 L348.7 296.2 L349.2 293.6 L349.7 292.4 L350.2 292.0 L350.7 292.0 L351.2 292.0 L351.7 292.0 L352.2 292.3 L352.7 293.3 L353.2 295.6 L353.7 299.4 L354.2 303.9 L354.7 307.8 L355.2 309.9 L355.7 309.2 L356.2 306.2 L356.7 301.9 L357.2 297.7 L357.7 294.5 L358.2 292.8 L358.7 292.1 L359.2 292.0 L359.7 292.0 L360.2 291.9 L360.7 291.7 L361.2 292.0 L361.7 293.3 L362.2 296.0 L362.7 300.1 L363.2 304.5 L363.7 308.0 L364.2 309.1 L364.7 307.1 L365.2 303.1 L365.7 298.3 L366.2 294.0 L366.7 290.9 L367.2 289.1 L367.7 288.3 L368.2 288.0 L368.7 287.7 L369.2 287.5 L369.7 287.5 L370.2 287.7 L370.7 288.7 L371.2 290.5 L371.7 293.1 L372.2 295.9 L372.7 298.0 L373.2 298.8 L373.7 297.9 L374.2 295.6 L374.7 292.5 L375.2 289.7 L375.7 287.7 L376.2 286.6 L376.7 286.2 L377.2 286.0 L377.7 285.9 L378.2 285.9 L378.7 285.9 L379.2 286.2 L379.7 287.0 L380.2 288.3 L380.7 290.0 L381.2 291.4 L381.7 292.1 L382.2 292.0 L382.7 291.3 L383.2 289.9 L383.7 288.4 L384.2 287.1 L384.7 286.3 L385.2 285.9 L385.7 285.8 L386.2 285.8 L386.7 285.8 L387.2 285.8 L387.7 286.0 L388.2 286.4 L388.7 287.5 L389.2 289.1 L389.7 291.1 L390.2 292.9 L390.7 293.9 L391.2 293.8 L391.7 292.5 L392.2 290.5 L392.7 288.4 L393.2 286.9 L393.7 286.1 L394.2 285.9 L394.7 285.8 L395.2 285.8 L395.7 285.9 L396.2 286.0 L396.7 286.8 L397.2 288.6 L397.7 291.6 L398.2 295.0 L398.7 297.9 L399.2 299.2 L399.7 298.0 L400.2 295.1 L400.7 291.6 L401.2 288.6 L401.7 286.8 L402.2 286.0 L402.7 285.8 L403.2 285.8 L403.7 285.8 L404.2 285.7 L404.7 286.0 L405.2 287.2 L405.7 289.7 L406.2 293.3 L406.7 297.0 L407.2 299.5 L407.7 299.9 L408.2 297.9 L408.7 294.2 L409.2 290.2 L409.7 287.0 L410.2 285.2 L410.7 284.5 L411.2 284.3 L411.7 284.2 L412.2 284.2 L412.7 284.4 L413.2 285.2 L413.7 287.4 L414.2 291.2 L414.7 296.1 L415.2 300.7 L415.7 303.2 L416.2 302.6 L416.7 299.6 L417.2 295.1 L417.7 290.6 L418.2 287.3 L418.7 285.4 L419.2 284.7 L419.7 284.6 L420.2 284.6 L420.7 284.7 L421.2 284.8 L421.7 285.3 L422.2 287.0 L422.7 290.2 L423.2 294.8 L423.7 299.8 L424.2 303.6 L424.7 305.0 L425.2 303.4 L425.7 299.4 L426.2 294.5 L426.7 290.1 L427.2 286.9 L427.7 285.3 L428.2 284.8 L428.7 284.7 L429.2 284.7 L429.7 284.7 L430.2 284.9 L430.7 285.7 L431.2 287.5 L431.7 290.8 L432.2 295.4 L432.7 300.2 L433.2 303.8 L433.7 305.0 L434.2 303.4 L434.7 299.5 L435.2 294.7 L435.7 290.5 L436.2 287.6 L436.7 286.2 L437.2 285.8 L437.7 285.8 L438.2 285.9 L438.7 285.9 L439.2 286.2 L439.7 287.0 L440.2 289.2 L440.7 292.9 L441.2 297.6 L441.7 302.3 L442.2 305.3 L442.7 305.6 L443.2 302.9 L443.7 298.1 L444.2 293.2 L444.7 289.5 L445.2 287.4 L445.7 286.7 L446.2 286.6 L446.7 286.7 L447.2 286.7 L447.7 287.0 L448.2 287.9 L448.7 290.2 L449.2 294.3 L449.7 299.4 L450.2 304.1 L450.7 306.5 L451.2 305.9 L451.7 302.6 L452.2 298.0 L452.7 293.4 L453.2 290.0 L453.7 288.2 L454.2 287.5 L454.7 287.4 L455.2 287.5 L455.7 287.6 L456.2 287.8 L456.7 288.5 L457.2 290.2 L457.7 293.3 L458.2 297.5 L458.7 302.1 L459.2 305.5 L459.7 306.7 L460.2 305.1 L460.7 301.5 L461.2 297.2 L461.7 293.4 L462.2 291.0 L462.7 290.0 L463.2 289.8 L463.7 289.9 L464.2 290.0 L464.7 290.3 L465.2 290.8 L465.7 291.9 L466.2 294.2 L466.7 297.6 L467.2 301.5 L467.7 304.9 L468.2 306.6 L468.7 306.4 L469.2 304.8 L469.7 302.4 L470.2 299.7 L470.7 297.3 L471.2 295.6 L471.7 294.6 L472.2 294.3 L472.7 294.3 L473.2 294.5 L473.7 294.8 L474.2 295.0 L474.7 295.1 L475.2 295.3 L475.7 295.8 L476.2 296.9 L476.7 298.7 L477.2 301.2 L477.7 304.0 L478.2 306.6 L478.7 308.5 L479.2 309.2 L479.7 308.0 L480.2 305.3 L480.7 302.0 L481.2 299.0 L481.7 297.1 L482.2 296.1 L482.7 295.8 L483.2 295.8 L483.7 295.9 L484.2 295.9 L484.7 296.1 L485.2 296.7 L485.7 298.2 L486.2 300.6 L486.7 303.8 L487.2 306.8 L487.7 308.8 L488.2 309.0 L488.7 307.3 L489.2 304.3 L489.7 301.2 L490.2 298.7 L490.7 297.3 L491.2 296.7 L491.7 296.6 L492.2 296.6 L492.7 296.5 L493.2 296.5 L493.7 296.7 L494.2 297.6 L494.7 299.4 L495.2 302.1 L495.7 305.2 L496.2 307.5 L496.7 308.3 L497.2 307.2 L497.7 304.4 L498.2 301.0 L498.7 298.1 L499.2 296.2 L499.7 295.4 L500.2 295.1 L500.7 295.0 L501.2 294.9 L501.7 294.8 L502.2 295.1 L502.7 296.2 L503.2 298.5 L503.7 301.9 L504.2 305.5 L504.7 307.9 L505.2 308.2 L505.7 306.5 L506.2 303.3 L506.7 299.7 L507.2 296.6 L507.7 294.4 L508.2 293.3 L508.7 292.8 L509.2 292.6 L509.7 292.5 L510.2 292.5 L510.7 292.5 L511.2 293.1 L511.7 294.6 L512.2 297.4 L512.7 301.1 L513.2 305.1 L513.7 308.1 L514.2 309.2 L514.7 307.8 L515.2 304.4 L515.7 300.1 L516.2 296.3 L516.7 293.6 L517.2 292.3 L517.7 291.8 L518.2 291.7 L518.7 291.6 L519.2 291.6 L519.7 291.7 L520.2 292.5 L520.7 294.4 L521.2 297.8 L521.7 302.2 L522.2 306.6 L522.7 309.5 L523.2 309.7 L523.7 307.2 L524.2 302.8 L524.7 298.1 L525.2 294.4 L525.7 292.1 L526.2 291.2 L526.7 290.9 L527.2 290.9 L527.7 290.8 L528.2 290.8 L528.7 291.1 L529.2 292.4 L529.7 295.2 L530.2 299.3 L530.7 303.8 L531.2 307.2 L531.7 308.3 L532.2 306.8 L532.7 303.2 L533.2 298.6 L533.7 294.5 L534.2 291.6 L534.7 290.0 L535.2 289.4 L535.7 289.2 L536.2 289.3 L536.7 289.5 L537.2 289.8 L537.7 290.5 L538.2 292.3 L538.7 295.2 L539.2 299.1 L539.7 303.2 L540.2 306.1 L540.7 307.1 L541.2 306.1 L541.7 303.7 L542.2 300.5 L542.7 297.3 L543.2 294.8 L543.7 293.3 L544.2 292.6 L544.7 292.5 L545.2 292.4 L545.7 292.2 L546.2 292.0 L546.7 291.9 L547.2 291.9 L547.7 292.5 L548.2 294.0 L548.7 296.6 L549.2 300.0 L549.7 303.7 L550.2 306.7 L550.7 308.2 L551.2 307.6 L551.7 304.9 L552.2 301.1 L552.7 297.0 L553.2 293.4 L553.7 291.0 L554.2 289.5 L554.7 288.9 L555.2 288.6 L555.7 288.4 L556.2 288.2 L556.7 288.2 L557.2 288.3 L557.7 288.9 L558.2 290.4 L558.7 292.9 L559.2 296.1 L559.7 299.5 L560.2 302.2 L560.7 303.3 L561.2 302.8 L561.7 300.9 L562.2 297.9 L562.7 294.5 L563.2 291.4 L563.7 289.0 L564.2 287.4 L564.7 286.6 L565.2 286.2 L565.7 286.1 L566.2 285.9 L566.7 285.8 L567.2 285.9 L567.7 286.1 L568.2 286.8 L568.7 288.1 L569.2 290.2 L569.7 293.0 L570.2 296.2 L570.7 299.1 L571.2 301.1 L571.7 301.7 L572.2 300.3 L572.7 297.0 L573.2 293.1 L573.7 289.7 L574.2 287.6 L574.7 286.8 L575.2 286.6 L575.7 286.7 L576.2 286.7 L576.7 286.7 L577.2 287.2 L577.7 288.7 L578.2 291.6 L578.7 295.7 L579.2 299.9 L579.7 302.8 L580.2 303.2 L580.7 301.3 L581.2 297.8 L581.7 293.8 L582.2 290.4 L582.7 288.2 L583.2 287.1 L583.7 286.7 L584.2 286.7 L584.7 286.7 L585.2 286.7 L585.7 286.9 L586.2 287.6 L586.7 289.3 L587.2 292.3 L587.7 296.4 L588.2 300.6 L588.7 303.8 L589.2 305.0 L589.7 303.5 L590.2 300.1 L590.7 296.0 L591.2 292.1 L591.7 289.4 L592.2 288.0 L592.7 287.5 L593.2 287.5 L593.7 287.5 L594.2 287.5 L594.7 287.7 L595.2 288.1 L595.7 289.3 L596.2 291.6 L596.7 294.9 L597.2 298.6 L597.7 301.8 L598.2 303.3 L598.7 302.6 L599.2 300.2 L599.7 297.0 L600.2 293.7 L600.7 291.1 L601.2 289.4 L601.7 288.5 L602.2 288.3 L602.7 288.2 L603.2 288.3 L603.7 288.3 L604.2 288.3 L604.7 288.4 L605.2 288.8 L605.7 289.6 L606.2 290.8 L606.7 292.3 L607.2 293.8 L607.7 294.8 L608.2 295.1 L608.7 294.6 L609.2 293.0 L609.7 290.9 L610.2 289.1 L610.7 288.0 L611.2 287.6 L611.7 287.5 L612.2 287.6 L612.7 287.7 L613.2 288.0 L613.7 288.7 L614.2 290.1 L614.7 292.1 L615.2 294.0 L615.7 295.0 L616.2 295.1 L616.7 294.6 L617.2 293.3 L617.7 291.9 L618.2 290.6 L618.7 289.9 L619.2 289.7 L619.7 289.7 L620.2 289.8 L620.7 290.0 L621.2 290.0 L621.7 290.1 L622.2 290.7 L622.7 292.2 L623.2 294.8 L623.7 298.2 L624.2 301.7 L624.7 304.3 L625.2 304.9 L625.7 303.5 L626.2 300.7 L626.7 297.3 L627.2 294.1 L627.7 291.6 L628.2 290.2 L628.7 289.5 L629.2 289.3 L629.7 289.2 L630.2 289.2 L630.7 289.2 L631.2 289.4 L631.7 290.0 L632.2 291.4 L632.7 294.0 L633.2 297.6 L633.7 301.7 L634.2 305.4 L634.7 307.8 L635.2 308.1 L635.7 305.4 L636.2 300.9 L636.7 296.2 L637.2 292.6 L637.7 290.7 L638.2 290.0 L638.7 290.0 L639.2 290.0 L639.7 290.1 L640.2 290.4 L640.7 291.3 L641.2 293.5 L641.7 297.2 L642.2 301.9 L642.7 306.1 L643.2 308.2 L643.7 307.7 L644.2 305.0 L644.7 301.0 L645.2 297.1 L645.7 294.1 L646.2 292.3 L646.7 291.6 L647.2 291.5 L647.7 291.6 L648.2 291.6 L648.7 291.7 L649.2 292.0 L649.7 293.0 L650.2 294.9 L650.7 298.1 L651.2 302.0 L651.7 305.6 L652.2 307.9 L652.7 308.1 L653.2 305.8 L653.7 301.9 L654.2 297.8 L654.7 294.7 L655.2 293.1 L655.7 292.5 L656.2 292.5 L656.7 292.5 L657.2 292.4 L657.7 292.4 L658.2 293.1 L658.7 294.9 L659.2 298.2 L659.7 302.4 L660.2 306.2 L660.7 308.2 L661.2 307.7 L661.7 305.1 L662.2 301.2 L662.7 297.2 L663.2 294.1 L663.7 292.1 L664.2 291.2 L664.7 290.9 L665.2 290.8 L665.7 290.7 L666.2 290.7 L666.7 290.9 L667.2 291.8 L667.7 293.8 L668.2 297.2 L668.7 301.3 L669.2 305.3 L669.7 307.9 L670.2 308.2 L670.7 306.4 L671.2 303.1 L671.7 299.1 L672.2 295.3 L672.7 292.5 L673.2 290.7 L673.7 290.0 L674.2 289.7 L674.7 289.8 L675.2 289.8 L675.7 289.9 L676.2 290.2 L676.7 290.9 L677.2 292.4 L677.7 295.1 L678.2 298.9 L678.7 303.3 L679.2 307.1 L679.7 309.5 L680.2 309.7 L680.7 307.6 L681.2 304.0 L681.7 299.9 L682.2 296.2 L682.7 293.6 L683.2 292.1 L683.7 291.5 L684.2 291.4 L684.7 291.5 L685.2 291.6 L685.7 291.7 L686.2 291.7 L686.7 292.0 L687.2 293.1 L687.7 295.1 L688.2 297.9 L688.7 301.1 L689.2 304.0 L689.7 305.6 L690.2 305.7 L690.7 304.2 L691.2 301.3 L691.7 297.7 L692.2 294.4 L692.7 291.9 L693.2 290.3 L693.7 289.5 L694.2 289.2 L694.7 289.3 L695.2 289.4 L695.7 289.5 L696.2 289.8 L696.7 290.4 L697.2 291.8 L697.7 294.1 L698.2 297.4 L698.7 301.0 L699.2 304.3 L699.7 306.3 L700.2 306.5 L700.7 305.0 L701.2 302.1 L701.7 298.7 L702.2 295.6 L702.7 293.3 L703.2 292.0 L703.7 291.6 L704.2 291.5 L704.7 291.6 L705.2 291.6 L705.7 291.3 L706.2 291.1 L706.7 291.3 L707.2 292.4 L707.7 294.6 L708.2 297.9 L708.7 301.8 L709.2 305.5 L709.7 307.9 L710.2 307.9 L710.7 305.2 L711.2 300.7 L711.7 295.8 L712.2 291.6 L712.7 288.8 L713.2 287.3 L713.7 286.6 L714.2 286.3 L714.7 286.0 L715.2 285.9 L715.7 286.0 L716.2 286.7 L716.7 288.3 L717.2 290.9 L717.7 294.2 L718.2 297.4 L718.7 299.6 L719.2 300.0 L719.7 298.8 L720.2 296.2 L720.7 293.0 L721.2 290.1 L721.7 288.1 L722.2 287.0 L722.7 286.6 L723.2 286.6 L723.7 286.6 L724.2 286.7 L724.7 286.7 L725.2 287.0 L725.7 287.9 L726.2 289.6 L726.7 292.1 L727.2 294.9 L727.7 297.2 L728.2 298.3 L728.7 297.8 L729.2 295.8 L729.7 293.1 L730.2 290.5 L730.7 288.5 L731.2 287.3 L731.7 286.8 L732.2 286.7 L732.7 286.7 L733.2 286.7 L733.7 286.7 L734.2 286.9 L734.7 287.4 L735.2 288.4 L735.7 290.1 L736.2 292.1 L736.7 293.9 L737.2 294.9 L737.7 294.9 L738.2 293.8 L738.7 292.0 L739.2 290.1 L739.7 288.6 L740.2 287.6 L740.7 287.1 L741.2 287.0 L741.7 287.0 L742.2 287.1 L742.7 287.3 L743.2 287.5 L743.7 287.8 L744.2 288.4 L744.7 289.4 L745.2 290.6 L745.7 291.7 L746.2 292.4 L746.7 292.5 L747.2 292.2 L747.7 291.1 L748.2 289.9 L748.7 289.2 L749.2 289.0 L749.7 289.1 L750.2 289.1 L750.7 288.9 L751.2 289.0 L751.7 290.0 L752.2 292.0 L752.7 294.7 L753.2 296.5 L753.7 296.7 L754.2 295.4 L754.7 293.0 L755.2 290.4 L755.7 288.3 L756.2 287.2 L756.7 286.7 L757.2 286.4 L757.7 286.4 L758.2 286.5 L758.7 286.9 L759.2 288.2 L759.7 290.9 L760.2 295.2 L760.7 300.4 L761.2 304.7 L761.7 306.7 L762.2 304.8 L762.7 300.6 L763.2 295.7 L763.7 291.6 L764.2 289.2 L764.7 288.3 L765.2 288.2 L765.7 288.3 L766.2 288.4 L766.7 288.5 L767.2 289.1 L767.7 290.7 L768.2 293.7 L768.7 297.8 L769.2 301.9 L769.7 304.6 L770.2 304.9 L770.7 303.1 L771.2 299.9 L771.7 296.1 L772.2 292.9 L772.7 290.8 L773.2 289.8 L773.7 289.5 L774.2 289.6 L774.7 289.6 L775.2 289.7 L775.7 289.9 L776.2 290.6 L776.7 292.4 L777.2 295.4 L777.7 299.5 L778.2 303.8 L778.7 307.1 L779.2 308.3 L779.7 306.6 L780.2 302.6 L780.7 298.0 L781.2 294.1 L781.7 291.8 L782.2 290.9 L782.7 290.8 L783.2 290.8 L783.7 290.7 L784.2 290.7 L784.7 291.0 L785.2 292.4 L785.7 295.2 L786.2 299.3 L786.7 303.5 L787.2 306.2 L787.7 306.5 L788.2 304.5 L788.7 300.9 L789.2 296.6 L789.7 293.0 L790.2 290.4 L790.7 289.1 L791.2 288.6 L791.7 288.4 L792.2 288.4 L792.7 288.4 L793.2 288.6 L793.7 289.4 L794.2 291.2 L794.7 294.5 L795.2 298.9 L795.7 303.6 L796.2 307.1 L796.7 308.3 L797.2 306.8 L797.7 303.2 L798.2 298.6 L798.7 294.4 L799.2 291.4 L799.7 289.8 L800.2 289.2 L800.7 289.2 L801.2 289.2 L801.7 289.2 L802.2 289.2 L802.7 289.7 L803.2 291.1 L803.7 293.8 L804.2 297.8 L804.7 302.4 L805.2 306.3 L806.0 296.0 L806.2 295.1 L806.4 293.8 L806.6 292.3 L806.9 290.7 L807.2 289.3 L807.5 288.0 L807.8 287.0 L808.1 286.0 L808.5 285.2 L808.8 284.4 L809.2 283.7 L809.5 283.0 L809.8 282.4 L810.2 281.9 L810.5 281.5 L810.8 281.1 L811.2 280.8 L811.5 280.5 L811.8 280.3 L812.2 280.1 L812.5 279.9 L812.8 279.8 L813.1 279.8 L813.3 279.7" stroke="#ff2d6f"/>
<path d="M168.7 303.0 L168.9 298.7 L169.2 292.8 L169.5 285.6 L169.9 277.9 L170.2 270.0 L170.5 261.4 L170.7 251.8 L171.0 241.9 L171.2 232.7 L171.5 225.0 L171.8 218.8 L172.1 213.7 L172.4 209.4 L172.7 205.8 L173.0 203.0 L173.3 201.1 L173.6 200.2 L174.0 199.9 L174.3 199.8 L174.6 199.6 L174.9 199.3 L175.2 199.1 L175.6 199.1 L175.9 199.1 L176.2 199.2 L176.5 199.3 L176.8 199.5 L177.1 199.7 L177.3 200.1 L177.6 200.5 L177.8 200.9 L178.1 201.3 L178.3 201.9 L178.5 202.7 L178.7 204.0 L178.9 205.7 L179.1 207.6 L179.2 209.9 L179.4 212.7 L179.5 216.0 L179.6 220.1 L179.7 225.1 L179.8 230.3 L179.9 235.5 L180.0 240.0 L180.1 243.9 L180.2 247.5 L180.3 250.7 L180.4 253.8 L180.6 256.7 L180.9 259.4 L181.2 261.8 L181.5 264.0 L182.0 266.2 L182.5 268.3 L183.2 270.4 L184.0 272.5 L184.9 274.6 L185.8 276.5 L186.7 278.3 L187.5 280.0 L188.3 281.6 L189.1 283.2 L189.9 284.6 L190.8 285.8 L191.8 286.8 L192.8 287.6 L193.8 288.3 L194.8 289.1 L195.8 290.0 L196.7 291.2 L197.5 292.5 L198.3 293.9 L199.1 295.3 L200.0 296.7 L201.0 298.1 L202.0 299.6 L203.1 301.0 L204.1 302.3 L205.0 303.3 L205.7 304.0 L206.4 304.5 L206.9 304.9 L207.6 305.0 L208.3 305.0 L209.2 304.7 L210.1 304.1 L211.1 303.3 L212.2 302.7 L213.3 302.2 L214.5 302.0 L215.9 301.9 L217.2 302.0 L218.6 302.1 L220.0 302.2 L221.3 302.4 L222.6 302.6 L223.9 302.9 L225.3 303.1 L226.7 303.3 L228.3 303.4 L229.9 303.4 L231.6 303.4 L233.3 303.3 L235.0 303.3 L236.6 303.3 L238.2 303.2 L239.9 303.2 L241.5 303.2 L243.3 303.3 L245.2 303.5 L247.3 303.9 L249.5 304.3 L251.5 304.6 L253.3 305.0 L254.8 305.3 L256.1 305.7 L257.4 306.1 L258.6 306.3 L260.0 306.5 L261.6 306.5 L263.2 306.3 L264.9 306.1 L266.6 305.9 L268.3 305.8 L269.9 305.9 L271.4 306.0 L273.0 306.2 L274.7 306.3 L276.7 306.3 L279.2 306.1 L282.0 305.9 L284.9 305.6 L287.7 305.3 L290.0 305.0 L291.7 304.8 L293.0 304.6 L294.1 304.4 L295.3 304.2 L296.7 304.2 L298.4 304.3 L300.2 304.4 L302.2 304.7 L304.1 304.9 L306.0 305.0 L307.8 305.1 L309.5 305.1 L311.2 305.2 L313.0 305.1 L315.0 305.0 L317.1 304.7 L319.4 304.1 L321.8 303.6 L324.2 303.2 L326.7 303.3 L329.2 304.0 L331.7 305.2 L334.4 306.5 L337.1 307.7 L340.0 308.3 L343.2 308.2 L346.6 307.6 L350.1 306.9 L353.5 306.2 L356.7 305.8 L359.7 306.0 L362.5 306.5 L365.2 307.1 L367.7 307.5 L370.0 307.5 L372.0 306.9 L373.7 305.9 L375.2 304.6 L376.7 303.4 L378.3 302.5 L380.0 301.8 L381.7 301.1 L383.4 300.6 L385.1 300.2 L386.7 300.0 L388.1 300.2 L389.4 300.6 L390.7 301.2 L392.2 301.7 L394.0 302.0 L396.1 301.9 L398.5 301.6 L401.1 301.2 L403.8 300.9 L406.7 300.8 L409.8 301.1 L413.1 301.6 L416.5 302.2 L419.9 302.8 L423.3 303.3 L426.6 303.6 L430.0 303.8 L433.3 303.9 L436.7 304.1 L440.0 304.2 L443.3 304.4 L446.7 304.5 L450.0 304.6 L453.4 304.8 L456.7 305.0 L460.0 305.3 L463.3 305.7 L466.7 306.1 L470.0 306.5 L473.3 306.7 L476.6 306.8 L480.0 306.8 L483.3 306.7 L486.7 306.7 L490.0 306.7 L493.3 306.8 L496.7 307.1 L500.0 307.3 L503.4 307.5 L506.7 307.5 L510.0 307.3 L513.3 306.9 L516.7 306.4 L520.0 306.0 L523.3 305.8 L526.8 305.8 L530.5 305.9 L534.0 306.1 L537.3 306.2 L540.0 306.2 L542.0 306.1 L543.4 306.0 L544.5 305.8 L545.5 305.5 L546.7 305.0 L548.0 304.1 L549.3 302.9 L550.5 301.6 L551.9 300.6 L553.3 300.0 L554.8 300.0 L556.4 300.5 L558.0 301.3 L559.8 302.0 L561.7 302.5 L563.7 302.8 L565.9 302.9 L568.1 303.1 L570.6 303.2 L573.3 303.3 L576.3 303.4 L579.6 303.6 L583.1 303.7 L586.6 303.9 L590.0 304.2 L593.4 304.7 L596.8 305.3 L600.3 305.9 L603.6 306.4 L606.7 306.7 L609.7 306.7 L612.6 306.5 L615.4 306.3 L617.9 305.9 L620.0 305.5 L621.7 305.1 L623.0 304.7 L624.1 304.2 L625.0 303.6 L626.0 303.0 L626.9 302.2 L627.7 301.1 L628.5 300.1 L629.2 299.3 L630.0 299.0 L630.8 299.3 L631.5 300.1 L632.3 301.2 L633.1 302.2 L634.0 303.0 L634.9 303.5 L635.7 304.0 L636.7 304.4 L638.1 304.7 L640.0 305.0 L642.7 305.2 L645.9 305.4 L649.5 305.6 L653.2 305.7 L656.7 305.8 L660.0 305.8 L663.2 305.8 L666.4 305.8 L669.7 305.7 L673.0 305.8 L676.4 305.9 L679.8 306.1 L683.2 306.4 L686.6 306.6 L690.0 306.8 L693.4 307.0 L696.7 307.3 L700.0 307.5 L703.4 307.6 L706.7 307.5 L710.0 307.2 L713.3 306.6 L716.7 306.0 L720.0 305.4 L723.3 305.0 L726.6 304.7 L730.0 304.4 L733.3 304.3 L736.7 304.2 L740.0 304.2 L743.3 304.4 L746.7 304.8 L750.0 305.3 L753.4 305.6 L756.7 305.8 L760.0 305.6 L763.3 305.3 L766.7 304.8 L770.0 304.4 L773.3 304.2 L776.8 304.2 L780.4 304.4 L783.9 304.7 L787.2 304.9 L790.0 305.0 L792.3 305.0 L794.1 304.9 L795.6 304.8 L797.0 304.7 L798.3 304.5 L799.5 304.3 L800.5 304.1 L801.4 303.8 L802.2 303.5 L803.0 303.0 L803.7 302.4 L804.3 301.6 L804.9 300.8 L805.4 299.9 L806.0 299.0 L806.6 298.0 L807.2 296.9 L807.8 295.8 L808.4 294.8 L809.0 294.0 L809.5 293.4 L810.1 292.9 L810.6 292.5 L811.1 292.2 L811.5 292.0 L811.9 292.0 L812.4 292.1 L812.7 292.3 L813.1 292.5 L813.3 292.6" stroke="#ff9a2e"/>
<path d="M168.7 306.7 L168.8 304.9 L168.9 302.4 L169.0 299.5 L169.1 296.3 L169.2 293.1 L169.4 290.0 L169.6 287.1 L169.7 284.1 L169.9 281.0 L170.1 278.0 L170.4 275.0 L170.6 272.0 L170.9 269.1 L171.1 266.2 L171.4 263.3 L171.7 260.5 L172.0 257.7 L172.3 255.0 L172.6 252.5 L172.9 250.1 L173.3 247.8 L173.6 245.4 L173.9 242.8 L174.2 240.0 L174.5 236.7 L174.7 233.0 L174.9 229.1 L175.2 225.3 L175.4 221.9 L175.6 219.0 L175.8 216.7 L176.0 214.8 L176.2 213.2 L176.4 212.0 L176.5 211.0 L176.7 210.3 L176.9 209.9 L177.0 209.7 L177.2 209.8 L177.3 210.2 L177.5 210.9 L177.6 212.0 L177.7 213.5 L177.8 215.6 L177.9 217.9 L178.0 220.4 L178.2 222.8 L178.3 225.0 L178.5 227.0 L178.7 228.9 L178.9 230.8 L179.1 232.6 L179.3 234.3 L179.5 236.0 L179.7 237.6 L179.9 239.0 L180.1 240.4 L180.3 241.9 L180.6 243.3 L180.8 245.0 L181.1 246.9 L181.3 248.9 L181.6 251.0 L181.9 253.1 L182.2 255.1 L182.5 257.0 L182.8 258.8 L183.1 260.6 L183.3 262.4 L183.6 264.0 L183.9 265.4 L184.2 266.7 L184.5 267.7 L184.8 268.5 L185.2 269.1 L185.5 269.6 L185.9 270.1 L186.2 270.6 L186.5 271.1 L186.9 271.6 L187.2 272.0 L187.6 272.5 L187.9 272.9 L188.3 273.3 L188.7 273.7 L189.1 274.1 L189.5 274.6 L190.0 275.0 L190.4 275.4 L190.8 275.8 L191.2 276.2 L191.6 276.6 L192.1 276.9 L192.5 277.3 L192.9 277.8 L193.3 278.3 L193.7 278.9 L194.1 279.5 L194.6 280.2 L195.0 280.9 L195.4 281.7 L195.8 282.5 L196.2 283.4 L196.6 284.3 L197.0 285.3 L197.5 286.3 L197.9 287.3 L198.3 288.3 L198.7 289.3 L199.2 290.4 L199.6 291.4 L200.1 292.5 L200.5 293.5 L201.0 294.5 L201.5 295.5 L201.9 296.5 L202.4 297.5 L202.9 298.4 L203.3 299.3 L203.7 300.0 L204.0 300.6 L204.4 301.2 L204.6 301.6 L204.9 302.0 L205.2 302.3 L205.4 302.6 L205.6 302.9 L205.8 303.1 L206.0 303.4 L206.2 303.5 L206.4 303.5 L206.7 303.3 L207.0 302.9 L207.4 302.4 L207.8 301.7 L208.2 301.0 L208.6 300.2 L209.0 299.5 L209.4 298.7 L209.9 297.8 L210.3 296.9 L210.8 296.0 L211.2 295.4 L211.7 295.0 L212.2 295.0 L212.6 295.2 L213.1 295.6 L213.5 296.1 L214.0 296.6 L214.5 297.0 L215.0 297.3 L215.5 297.5 L216.0 297.8 L216.6 298.0 L217.0 298.2 L217.5 298.3 L217.9 298.3 L218.3 298.3 L218.6 298.2 L218.9 298.1 L219.3 298.0 L219.6 298.0 L219.9 298.0 L220.3 298.0 L220.6 298.0 L221.0 298.1 L221.3 298.1 L221.7 298.3 L222.1 298.5 L222.4 298.8 L222.8 299.1 L223.1 299.5 L223.5 299.9 L223.8 300.3 L224.1 300.7 L224.5 301.2 L224.8 301.7 L225.2 302.2 L225.5 302.8 L225.8 303.3 L226.1 303.9 L226.4 304.5 L226.6 305.1 L226.9 305.8 L227.2 306.3 L227.4 306.8 L227.6 307.2 L227.8 307.6 L228.0 308.0 L228.2 308.2 L228.4 308.3 L228.7 308.3 L229.0 308.0 L229.4 307.6 L229.8 307.0 L230.2 306.4 L230.6 305.8 L231.0 305.3 L231.4 304.9 L231.8 304.4 L232.2 304.0 L232.6 303.6 L232.9 303.4 L233.3 303.3 L233.6 303.4 L234.0 303.6 L234.3 304.0 L234.6 304.4 L234.9 304.8 L235.2 305.2 L235.5 305.6 L235.8 306.1 L236.1 306.7 L236.4 307.1 L236.7 307.4 L237.0 307.5 L237.4 307.3 L237.7 306.9 L238.1 306.3 L238.5 305.6 L238.9 305.0 L239.3 304.5 L239.7 304.1 L240.1 303.6 L240.5 303.2 L240.9 302.8 L241.3 302.6 L241.7 302.5 L242.1 302.6 L242.5 302.9 L242.9 303.2 L243.4 303.7 L243.8 304.1 L244.2 304.5 L244.6 304.9 L245.1 305.3 L245.6 305.7 L246.1 306.1 L246.4 306.5 L246.7 306.7 L247.8 308.4 L248.3 307.7 L248.8 306.7 L249.3 305.6 L249.8 304.7 L250.3 304.0 L250.8 303.6 L251.3 303.4 L251.8 303.3 L252.3 303.3 L252.8 303.4 L253.3 303.5 L253.8 303.9 L254.3 304.5 L254.8 305.5 L255.3 306.6 L255.8 307.6 L256.3 308.4 L256.8 308.8 L257.3 308.7 L257.8 308.2 L258.3 307.3 L258.8 306.2 L259.3 305.2 L259.8 304.3 L260.3 303.8 L260.8 303.5 L261.3 303.3 L261.8 303.3 L262.3 303.3 L262.8 303.4 L263.3 303.6 L263.8 304.0 L264.3 304.7 L264.8 305.7 L265.3 306.8 L265.8 307.8 L266.3 308.6 L266.8 309.0 L267.3 308.9 L267.8 308.1 L268.3 306.9 L268.8 305.7 L269.3 304.6 L269.8 303.8 L270.3 303.5 L270.8 303.3 L271.3 303.3 L271.8 303.3 L272.3 303.5 L272.8 303.9 L273.3 304.7 L273.8 305.9 L274.3 307.2 L274.8 308.3 L275.3 309.0 L275.8 309.1 L276.3 308.5 L276.8 307.4 L277.3 306.1 L277.8 304.9 L278.3 304.0 L278.8 303.5 L279.3 303.3 L279.8 303.3 L280.3 303.3 L280.8 303.3 L281.3 303.7 L281.8 304.3 L282.3 305.4 L282.8 306.7 L283.3 308.0 L283.8 308.9 L284.3 309.2 L284.8 308.8 L285.3 307.9 L285.8 306.6 L286.3 305.3 L286.8 304.3 L287.3 303.6 L287.8 303.3 L288.3 303.2 L288.8 303.2 L289.3 303.2 L289.8 303.4 L290.3 303.8 L290.8 304.7 L291.3 305.9 L291.8 307.2 L292.3 308.3 L292.8 309.0 L293.3 309.1 L293.8 308.5 L294.3 307.4 L294.8 306.1 L295.3 304.9 L295.8 303.9 L296.3 303.4 L296.8 303.1 L297.3 303.1 L297.8 303.1 L298.3 303.1 L298.8 303.4 L299.3 304.0 L299.8 305.0 L300.3 306.3 L300.8 307.6 L301.3 308.6 L301.8 309.1 L302.3 309.0 L302.8 308.4 L303.3 307.4 L303.8 306.2 L304.3 305.1 L304.8 304.1 L305.3 303.5 L305.8 303.1 L306.3 303.0 L306.8 303.0 L307.3 303.0 L307.8 303.1 L308.3 303.3 L308.8 303.8 L309.3 304.6 L309.8 305.6 L310.3 306.8 L310.8 308.0 L311.3 308.8 L311.8 309.2 L312.3 309.1 L312.8 308.4 L313.3 307.3 L313.8 306.1 L314.3 304.9 L314.8 304.0 L315.3 303.5 L315.8 303.3 L316.3 303.2 L316.8 303.2 L317.3 303.2 L317.8 303.4 L318.3 303.8 L318.8 304.5 L319.3 305.5 L319.8 306.8 L320.3 308.0 L320.8 308.9 L321.3 309.4 L321.8 309.2 L322.3 308.5 L322.8 307.4 L323.3 306.1 L323.8 304.9 L324.3 304.1 L324.8 303.6 L325.3 303.4 L325.8 303.4 L326.3 303.4 L326.8 303.5 L327.3 303.7 L327.8 304.2 L328.3 305.2 L328.8 306.3 L329.3 307.6 L329.8 308.7 L330.3 309.4 L330.8 309.5 L331.3 308.8 L331.8 307.6 L332.3 306.2 L332.8 305.0 L333.3 304.1 L333.8 303.7 L334.3 303.6 L334.8 303.6 L335.3 303.6 L335.8 303.8 L336.3 304.3 L336.8 305.2 L337.3 306.5 L337.8 307.9 L338.3 309.0 L338.8 309.6 L339.3 309.4 L339.8 308.6 L340.3 307.3 L340.8 305.9 L341.3 304.8 L341.8 304.0 L342.3 303.7 L342.8 303.6 L343.3 303.6 L343.8 303.7 L344.3 303.9 L344.8 304.5 L345.3 305.6 L345.8 306.9 L346.3 308.3 L346.8 309.2 L347.3 309.5 L347.8 309.1 L348.3 308.2 L348.8 306.9 L349.3 305.6 L349.8 304.5 L350.3 303.9 L350.8 303.6 L351.3 303.5 L351.8 303.5 L352.3 303.6 L352.8 303.8 L353.3 304.3 L353.8 305.3 L354.3 306.5 L354.8 307.8 L355.3 308.8 L355.8 309.3 L356.3 309.2 L356.8 308.4 L357.3 307.2 L357.8 305.9 L358.3 304.8 L358.8 304.0 L359.3 303.6 L359.8 303.5 L360.3 303.4 L360.8 303.4 L361.3 303.5 L361.8 303.9 L362.3 304.6 L362.8 305.6 L363.3 306.9 L363.8 308.1 L364.3 308.9 L364.8 309.1 L365.3 308.6 L365.8 307.5 L366.3 306.3 L366.8 305.2 L367.3 304.3 L367.8 303.7 L368.3 303.4 L368.8 303.3 L369.3 303.2 L369.8 302.7 L370.3 302.3 L370.8 302.0 L371.3 302.0 L371.8 302.3 L372.3 302.9 L372.8 303.5 L373.3 304.1 L373.8 304.2 L374.3 303.7 L374.8 302.6 L375.3 301.0 L375.8 299.2 L376.3 297.6 L376.8 296.3 L377.3 295.3 L377.8 294.7 L378.3 294.2 L378.8 294.1 L379.3 294.1 L379.8 294.5 L380.3 295.2 L380.8 296.2 L381.3 297.3 L381.8 298.1 L382.3 298.4 L382.8 298.3 L383.3 297.9 L383.8 297.0 L384.3 295.8 L384.8 294.6 L385.3 293.6 L385.8 292.9 L386.3 292.6 L386.8 292.5 L387.3 292.5 L387.8 292.6 L388.3 293.0 L388.8 293.7 L389.3 294.8 L389.8 296.4 L390.3 298.0 L390.8 299.3 L391.3 299.9 L391.8 299.9 L392.3 299.0 L392.8 297.5 L393.3 295.9 L393.8 294.4 L394.3 293.5 L394.8 293.1 L395.3 293.4 L395.8 293.5 L396.3 293.7 L396.8 294.1 L397.3 295.1 L397.8 296.8 L398.3 298.9 L398.8 301.0 L399.3 302.7 L399.8 303.3 L400.3 302.7 L400.8 301.1 L401.3 299.1 L401.8 297.3 L402.3 295.9 L402.8 295.2 L403.3 295.0 L403.8 294.8 L404.3 294.6 L404.8 294.6 L405.3 294.9 L405.8 295.8 L406.3 297.4 L406.8 299.4 L407.3 301.2 L407.8 302.3 L408.3 302.5 L408.8 301.6 L409.3 299.7 L409.8 297.3 L410.3 294.9 L410.8 293.2 L411.3 292.1 L411.8 291.7 L412.3 291.9 L412.8 292.1 L413.3 292.7 L413.8 293.9 L414.3 296.0 L414.8 298.8 L415.3 301.8 L415.8 304.4 L416.3 305.7 L416.8 305.5 L417.3 303.9 L417.8 301.6 L418.3 299.1 L418.8 297.0 L419.3 295.6 L419.8 295.0 L420.3 295.0 L420.8 295.0 L421.3 295.1 L421.8 295.3 L422.3 296.0 L422.8 297.3 L423.3 299.3 L423.8 301.6 L424.3 303.8 L424.8 305.3 L425.3 305.8 L425.8 305.2 L426.3 303.6 L426.8 301.6 L427.3 299.4 L427.8 297.7 L428.3 296.5 L428.8 296.0 L429.3 295.8 L429.8 295.8 L430.3 295.7 L430.8 295.9 L431.3 296.5 L431.8 297.8 L432.3 299.6 L432.8 301.8 L433.3 303.9 L433.8 305.3 L434.3 305.8 L434.8 305.2 L435.3 303.6 L435.8 301.3 L436.3 299.0 L436.8 297.1 L437.3 295.8 L437.8 295.2 L438.3 295.0 L438.8 295.1 L439.3 295.2 L439.8 295.5 L440.3 296.5 L440.8 298.1 L441.3 300.4 L441.8 302.9 L442.3 305.1 L442.8 306.4 L443.3 306.6 L443.8 305.4 L444.3 303.2 L444.8 300.7 L445.3 298.4 L445.8 296.9 L446.3 296.1 L446.8 295.9 L447.3 296.0 L447.8 296.1 L448.3 296.5 L448.8 297.5 L449.3 299.3 L449.8 301.7 L450.3 304.3 L450.8 306.4 L451.3 307.4 L451.8 307.2 L452.3 305.8 L452.8 303.7 L453.3 301.5 L453.8 299.6 L454.3 298.3 L454.8 297.6 L455.3 297.5 L455.8 297.6 L456.3 297.7 L456.8 297.9 L457.3 298.6 L457.8 299.9 L458.3 301.6 L458.8 303.7 L459.3 305.7 L459.8 307.1 L460.3 307.5 L460.8 307.0 L461.3 305.6 L461.8 303.7 L462.3 301.8 L462.8 300.4 L463.3 299.5 L463.8 299.2 L464.3 299.2 L464.8 299.4 L465.3 299.7 L465.8 300.2 L466.3 301.2 L466.8 302.6 L467.3 304.4 L467.8 306.2 L468.3 307.6 L468.8 308.3 L469.3 308.2 L469.8 307.7 L470.3 306.8 L470.8 305.8 L471.3 304.7 L471.8 303.9 L472.3 303.3 L472.8 303.1 L473.3 303.1 L473.8 303.2 L474.3 303.3 L474.8 303.3 L475.3 303.4 L475.8 303.6 L476.3 304.0 L476.8 304.7 L477.3 305.6 L477.8 306.8 L478.3 307.9 L478.8 309.0 L479.3 309.7 L479.8 310.0 L480.3 309.6 L480.8 308.5 L481.3 307.1 L481.8 305.7 L482.3 304.5 L482.8 303.8 L483.3 303.4 L483.8 303.3 L484.3 303.3 L484.8 303.4 L485.3 303.6 L485.8 304.1 L486.3 305.0 L486.8 306.3 L487.3 307.8 L487.8 309.1 L488.3 309.9 L488.8 309.9 L489.3 309.3 L489.8 308.0 L490.3 306.5 L490.8 305.2 L491.3 304.1 L491.8 303.6 L492.3 303.3 L492.8 303.3 L493.3 303.2 L493.8 303.3 L494.3 303.6 L494.8 304.4 L495.3 305.6 L495.8 307.1 L496.3 308.6 L496.8 309.6 L497.3 310.0 L497.8 309.4 L498.3 308.1 L498.8 306.5 L499.3 304.8 L499.8 303.6 L500.3 302.9 L500.8 302.5 L501.3 302.5 L501.8 302.5 L502.3 302.6 L502.8 303.0 L503.3 303.9 L503.8 305.3 L504.3 306.8 L504.8 308.2 L505.3 309.0 L505.8 309.1 L506.3 308.6 L506.8 307.5 L507.3 306.1 L507.8 304.7 L508.3 303.6 L508.8 302.9 L509.3 302.6 L509.8 302.5 L510.3 302.5 L510.8 302.5 L511.3 302.7 L511.8 303.2 L512.3 304.2 L512.8 305.5 L513.3 307.1 L513.8 308.6 L514.3 309.6 L514.8 310.0 L515.3 309.6 L515.8 308.4 L516.3 306.8 L516.8 305.2 L517.3 303.9 L517.8 303.0 L518.3 302.6 L518.8 302.5 L519.3 302.5 L519.8 302.5 L520.3 302.8 L520.8 303.4 L521.3 304.6 L521.8 306.2 L522.3 308.0 L522.8 309.6 L523.3 310.6 L523.8 310.7 L524.3 309.8 L524.8 308.2 L525.3 306.4 L525.8 304.7 L526.3 303.5 L526.8 302.8 L527.3 302.5 L527.8 302.5 L528.3 302.5 L528.8 302.6 L529.3 303.0 L529.8 303.8 L530.3 305.1 L530.8 306.6 L531.3 308.0 L531.8 308.9 L532.3 309.2 L532.8 308.8 L533.3 307.8 L533.8 306.5 L534.3 305.0 L534.8 303.8 L535.3 303.0 L535.8 302.6 L536.3 302.5 L536.8 302.5 L537.3 302.5 L537.8 302.7 L538.3 303.1 L538.8 304.1 L539.3 305.4 L539.8 307.0 L540.3 308.5 L540.8 309.6 L541.3 310.0 L541.8 309.6 L542.3 308.6 L542.8 307.3 L543.3 305.8 L543.8 304.6 L544.3 303.6 L544.8 302.9 L545.3 302.6 L545.8 302.4 L546.3 302.4 L546.8 302.4 L547.3 302.4 L547.8 302.6 L548.3 303.1 L548.8 303.9 L549.3 305.0 L549.8 306.1 L550.3 307.2 L550.8 308.0 L551.3 308.3 L551.8 308.2 L552.3 307.7 L552.8 306.6 L553.3 305.4 L553.8 304.1 L554.3 303.1 L554.8 302.3 L555.3 301.9 L555.8 301.7 L556.3 301.6 L556.8 301.5 L557.3 301.5 L557.8 301.7 L558.3 302.3 L558.8 303.3 L559.3 304.7 L559.8 306.3 L560.3 308.0 L560.8 309.3 L561.3 309.9 L561.8 309.6 L562.3 308.6 L562.8 307.1 L563.3 305.4 L563.8 303.7 L564.3 302.3 L564.8 301.3 L565.3 300.6 L565.8 300.2 L566.3 300.1 L566.8 300.0 L567.3 299.9 L567.8 299.9 L568.3 300.0 L568.8 300.4 L569.3 300.9 L569.8 301.7 L570.3 302.6 L570.8 303.4 L571.3 304.0 L571.8 304.2 L572.3 304.2 L572.8 303.9 L573.3 303.0 L573.8 301.8 L574.3 300.6 L574.8 299.6 L575.3 299.0 L575.8 298.7 L576.3 298.7 L576.8 298.7 L577.3 298.8 L577.8 299.1 L578.3 299.9 L578.8 301.2 L579.3 302.6 L579.8 304.0 L580.3 304.8 L580.8 305.0 L581.3 304.5 L581.8 303.5 L582.3 302.2 L582.8 300.9 L583.3 299.8 L583.8 299.1 L584.3 298.8 L584.8 298.7 L585.3 298.8 L585.8 298.9 L586.3 299.2 L586.8 299.8 L587.3 300.9 L587.8 302.4 L588.3 304.2 L588.8 305.8 L589.3 307.0 L589.8 307.5 L590.3 306.9 L590.8 305.7 L591.3 304.2 L591.8 302.7 L592.3 301.5 L592.8 300.7 L593.3 300.4 L593.8 300.3 L594.3 300.3 L594.8 300.3 L595.3 300.4 L595.8 300.7 L596.3 301.2 L596.8 302.1 L597.3 303.1 L597.8 304.1 L598.3 304.8 L598.8 305.0 L599.3 304.9 L599.8 304.4 L600.3 303.6 L600.8 302.6 L601.3 301.7 L601.8 301.0 L602.3 300.4 L602.8 300.2 L603.3 300.0 L603.8 300.0 L604.3 300.0 L604.8 300.1 L605.3 300.3 L605.8 300.7 L606.3 301.4 L606.8 302.2 L607.3 303.2 L607.8 304.0 L608.3 304.7 L608.8 305.0 L609.3 304.8 L609.8 304.1 L610.3 303.0 L610.8 302.0 L611.3 301.2 L611.8 300.9 L612.3 300.8 L612.8 300.8 L613.3 300.7 L613.8 300.9 L614.3 301.4 L614.8 302.3 L615.3 303.5 L615.8 304.5 L616.3 305.0 L616.8 304.9 L617.3 304.3 L617.8 303.4 L618.3 302.4 L618.8 301.4 L619.3 300.7 L619.8 300.3 L620.3 300.1 L620.8 300.0 L621.3 299.6 L621.8 299.3 L622.3 299.1 L622.8 299.4 L623.3 300.0 L623.8 301.2 L624.3 302.6 L624.8 304.0 L625.3 304.8 L625.8 305.0 L626.3 304.5 L626.8 303.2 L627.3 301.3 L627.8 299.1 L628.3 296.9 L628.8 295.7 L629.3 295.2 L629.8 295.1 L630.3 295.4 L630.8 295.7 L631.3 296.0 L631.8 296.6 L632.3 297.6 L632.8 299.2 L633.3 301.4 L633.8 303.8 L634.3 306.3 L634.8 308.4 L635.3 309.7 L635.8 309.9 L636.3 308.6 L636.8 306.5 L637.3 304.3 L637.8 302.4 L638.3 301.2 L638.8 300.8 L639.3 300.9 L639.8 300.9 L640.3 301.1 L640.8 301.4 L641.3 302.2 L641.8 303.5 L642.3 305.2 L642.8 307.0 L643.3 308.5 L643.8 309.1 L644.3 309.0 L644.8 308.1 L645.3 306.7 L645.8 305.3 L646.3 304.0 L646.8 303.1 L647.3 302.6 L647.8 302.4 L648.3 302.5 L648.8 302.5 L649.3 302.7 L649.8 302.9 L650.3 303.6 L650.8 304.6 L651.3 305.9 L651.8 307.2 L652.3 308.4 L652.8 309.0 L653.3 309.1 L653.8 308.5 L654.3 307.3 L654.8 305.9 L655.3 304.7 L655.8 303.9 L656.3 303.4 L656.8 303.3 L657.3 303.3 L657.8 303.4 L658.3 303.5 L658.8 304.1 L659.3 305.1 L659.8 306.5 L660.3 308.0 L660.8 309.3 L661.3 310.0 L661.8 309.8 L662.3 308.9 L662.8 307.7 L663.3 306.3 L663.8 305.0 L664.3 304.1 L664.8 303.6 L665.3 303.4 L665.8 303.3 L666.3 303.3 L666.8 303.4 L667.3 303.6 L667.8 304.2 L668.3 305.1 L668.8 306.2 L669.3 307.4 L669.8 308.5 L670.3 309.1 L670.8 309.2 L671.3 308.8 L671.8 308.0 L672.3 306.9 L672.8 305.8 L673.3 304.8 L673.8 304.0 L674.3 303.6 L674.8 303.4 L675.3 303.4 L675.8 303.5 L676.3 303.5 L676.8 303.7 L677.3 304.1 L677.8 304.9 L678.3 306.1 L678.8 307.4 L679.3 308.8 L679.8 309.9 L680.3 310.7 L680.8 310.7 L681.3 310.1 L681.8 309.0 L682.3 307.7 L682.8 306.4 L683.3 305.4 L683.8 304.7 L684.3 304.3 L684.8 304.1 L685.3 304.1 L685.8 304.2 L686.3 304.1 L686.8 304.1 L687.3 304.3 L687.8 304.8 L688.3 305.5 L688.8 306.4 L689.3 307.3 L689.8 308.0 L690.3 308.3 L690.8 308.3 L691.3 308.0 L691.8 307.3 L692.3 306.2 L692.8 305.1 L693.3 304.1 L693.8 303.2 L694.3 302.7 L694.8 302.5 L695.3 302.5 L695.8 302.5 L696.3 302.5 L696.8 302.7 L697.3 303.1 L697.8 303.9 L698.3 305.0 L698.8 306.4 L699.3 307.8 L699.8 309.1 L700.3 309.8 L700.8 309.9 L701.3 309.4 L701.8 308.3 L702.3 306.9 L702.8 305.4 L703.3 304.2 L703.8 303.3 L704.3 302.8 L704.8 302.6 L705.3 302.4 L705.8 302.2 L706.3 302.1 L706.8 302.1 L707.3 302.5 L707.8 303.2 L708.3 304.5 L708.8 306.0 L709.3 307.6 L709.8 309.0 L710.3 309.9 L710.8 309.8 L711.3 308.8 L711.8 307.1 L712.3 304.9 L712.8 302.9 L713.3 301.2 L713.8 300.1 L714.3 299.5 L714.8 299.2 L715.3 299.2 L715.8 299.3 L716.3 299.5 L716.8 300.2 L717.3 301.2 L717.8 302.7 L718.3 304.3 L718.8 305.6 L719.3 306.5 L719.8 306.7 L720.3 306.3 L720.8 305.4 L721.3 304.0 L721.8 302.6 L722.3 301.3 L722.8 300.5 L723.3 300.1 L723.8 300.0 L724.3 300.0 L724.8 300.1 L725.3 300.2 L725.8 300.7 L726.3 301.6 L726.8 302.9 L727.3 304.6 L727.8 306.2 L728.3 307.6 L728.8 308.3 L729.3 307.9 L729.8 306.8 L730.3 305.2 L730.8 303.6 L731.3 302.3 L731.8 301.4 L732.3 301.0 L732.8 300.8 L733.3 300.8 L733.8 300.5 L734.3 300.2 L734.8 300.1 L735.3 300.2 L735.8 300.7 L736.3 301.4 L736.8 302.3 L737.3 303.0 L737.8 303.4 L738.3 303.2 L738.8 302.6 L739.3 301.4 L739.8 299.8 L740.3 298.2 L740.8 296.8 L741.3 295.7 L741.8 295.2 L742.3 295.4 L742.8 295.7 L743.3 296.0 L743.8 296.5 L744.3 297.1 L744.8 298.1 L745.3 299.2 L745.8 300.2 L746.3 301.1 L746.8 301.6 L747.3 301.7 L747.8 301.6 L748.3 301.0 L748.8 300.4 L749.3 300.0 L749.8 300.0 L750.3 300.0 L750.8 299.9 L751.3 299.9 L751.8 300.2 L752.3 301.1 L752.8 302.5 L753.3 303.9 L753.8 304.9 L754.3 305.0 L754.8 304.4 L755.3 303.2 L755.8 301.8 L756.3 300.6 L756.8 299.7 L757.3 299.3 L757.8 299.3 L758.3 299.4 L758.8 299.6 L759.3 300.1 L759.8 301.1 L760.3 302.7 L760.8 304.8 L761.3 306.9 L761.8 308.5 L762.3 309.2 L762.8 308.5 L763.3 307.1 L763.8 305.3 L764.3 303.6 L764.8 302.4 L765.3 301.8 L765.8 301.7 L766.3 301.7 L766.8 301.7 L767.3 301.8 L767.8 302.2 L768.3 303.1 L768.8 304.4 L769.3 306.0 L769.8 307.4 L770.3 308.2 L770.8 308.3 L771.3 307.8 L771.8 306.7 L772.3 305.3 L772.8 303.9 L773.3 302.8 L773.8 302.1 L774.3 301.8 L774.8 301.7 L775.3 301.7 L775.8 301.8 L776.3 302.0 L776.8 302.6 L777.3 303.6 L777.8 305.1 L778.3 306.8 L778.8 308.4 L779.3 309.6 L779.8 310.0 L780.3 309.3 L780.8 307.9 L781.3 306.2 L781.8 304.6 L782.3 303.4 L782.8 302.7 L783.3 302.5 L783.8 302.4 L784.3 302.3 L784.8 302.3 L785.3 302.7 L785.8 303.4 L786.3 304.7 L786.8 306.1 L787.3 307.5 L787.8 308.2 L788.3 308.3 L788.8 307.7 L789.3 306.6 L789.8 305.1 L790.3 303.6 L790.8 302.3 L791.3 301.4 L791.8 301.0 L792.3 300.8 L792.8 300.8 L793.3 300.7 L793.8 300.9 L794.3 301.5 L794.8 302.6 L795.3 304.2 L795.8 306.1 L796.3 307.9 L796.8 309.2 L797.3 309.7 L797.8 309.1 L798.3 307.7 L798.8 305.8 L799.3 303.8 L799.8 302.1 L800.3 300.9 L800.8 300.2 L801.3 300.0 L801.8 300.0 L802.3 300.0 L802.8 300.2 L803.3 300.7 L803.8 301.7 L804.3 303.3 L804.8 305.3 L805.3 307.3 L806.0 300.0 L806.2 299.3 L806.5 298.4 L806.9 297.3 L807.3 296.1 L807.6 295.0 L808.0 294.0 L808.3 293.1 L808.7 292.2 L809.0 291.3 L809.3 290.5 L809.7 289.7 L810.0 289.0 L810.3 288.4 L810.6 287.8 L810.9 287.2 L811.2 286.8 L811.5 286.4 L811.8 286.0 L812.1 285.7 L812.4 285.5 L812.7 285.3 L812.9 285.2 L813.1 285.1 L813.3 285.0" stroke="#a45cff"/>
</g>
<g stroke="#8a8a8a" stroke-width="1.2"><line x1="168.6" x2="168.6" y1="80.3" y2="325.9"/><line x1="168" x2="813.8" y1="325.3" y2="325.3"/></g>
<text class="tick" transform="translate(167.4,329.3) scale(1.04,1)" text-anchor="end">0</text><text class="tick" transform="translate(167.4,289.5) scale(1.04,1)" text-anchor="end">5</text><text class="tick" transform="translate(167.4,249.8) scale(1.04,1)" text-anchor="end">10</text><text class="tick" transform="translate(167.4,210.0) scale(1.04,1)" text-anchor="end">15</text><text class="tick" transform="translate(167.4,170.2) scale(1.04,1)" text-anchor="end">20</text><text class="tick" transform="translate(167.4,130.5) scale(1.04,1)" text-anchor="end">25</text><text class="tick" transform="translate(167.4,90.7) scale(1.04,1)" text-anchor="end">30</text><text class="tick" transform="translate(168.5,337.2) scale(1.04,1)" text-anchor="middle">0</text><text class="tick" transform="translate(312.5,337.2) scale(1.04,1)" text-anchor="middle">50</text><text class="tick" transform="translate(456.5,337.2) scale(1.04,1)" text-anchor="middle">100</text><text class="tick" transform="translate(600.5,337.2) scale(1.04,1)" text-anchor="middle">150</text><text class="tick" transform="translate(744.5,337.2) scale(1.04,1)" text-anchor="middle">200</text>
<text class="ttl" x="491.6" y="365.8" text-anchor="middle" textLength="73.6" lengthAdjust="spacingAndGlyphs">Tiempo (0.25 s)</text>
<text class="ttl" transform="translate(138,203) rotate(-90)" text-anchor="middle">Amplitud (µV)</text>
<line x1="180" x2="816.7" y1="245.8" y2="245.8" stroke="#0c2350" stroke-width="2.8" stroke-dasharray="9.5 9.28" stroke-dashoffset="6.28"/>
<circle cx="160.8" cy="245.8" r="17.5" fill="none" stroke="#0c2350" stroke-width="3.4"/>
<rect x="107.0" y="413" width="59.2" height="5" fill="#3f9fea"/><g class="leg" fill="#3f9fea" stroke="#3f9fea"><text x="32.02" y="451.2" textLength="19.07" lengthAdjust="spacingAndGlyphs">LE</text> <text x="57.20" y="451.2" textLength="50.04" lengthAdjust="spacingAndGlyphs">DROIT</text> <text x="113.10" y="451.2" textLength="21.32" lengthAdjust="spacingAndGlyphs">DE</text> <text x="140.60" y="451.2" textLength="100.71" lengthAdjust="spacingAndGlyphs">L’ABDOMEN</text>
<text x="63.95" y="481.4" textLength="88.81" lengthAdjust="spacingAndGlyphs">INFÉRIEUR</text> <text x="159.25" y="481.4" textLength="49.65" lengthAdjust="spacingAndGlyphs">DROIT</text></g>
<rect x="333.3" y="413" width="59.2" height="5" fill="#ff3572"/><g class="leg" fill="#ff3572" stroke="#ff3572"><text x="258.82" y="451.2" textLength="19.07" lengthAdjust="spacingAndGlyphs">LE</text> <text x="284.00" y="451.2" textLength="50.04" lengthAdjust="spacingAndGlyphs">DROIT</text> <text x="339.90" y="451.2" textLength="21.32" lengthAdjust="spacingAndGlyphs">DE</text> <text x="367.40" y="451.2" textLength="100.71" lengthAdjust="spacingAndGlyphs">L’ABDOMEN</text>
<text x="281.25" y="481.4" textLength="89.12" lengthAdjust="spacingAndGlyphs">INFÉRIEUR</text> <text x="376.53" y="481.4" textLength="67.82" lengthAdjust="spacingAndGlyphs">GAUCHE</text></g>
<rect x="561.0" y="413" width="59.2" height="5" fill="#ffa03c"/><g class="leg" fill="#ffa03c" stroke="#ffa03c"><text x="486.62" y="451.2" textLength="19.07" lengthAdjust="spacingAndGlyphs">LE</text> <text x="511.80" y="451.2" textLength="50.04" lengthAdjust="spacingAndGlyphs">DROIT</text> <text x="567.70" y="451.2" textLength="21.32" lengthAdjust="spacingAndGlyphs">DE</text> <text x="595.20" y="451.2" textLength="100.71" lengthAdjust="spacingAndGlyphs">L’ABDOMEN</text>
<text x="515.05" y="481.4" textLength="95.02" lengthAdjust="spacingAndGlyphs">SUPÉRIEUR</text> <text x="616.05" y="481.4" textLength="50.04" lengthAdjust="spacingAndGlyphs">DROIT</text></g>
<rect x="791.7" y="413" width="59.2" height="5" fill="#a87cff"/><g class="leg" fill="#a87cff" stroke="#a87cff"><text x="717.52" y="451.2" textLength="19.07" lengthAdjust="spacingAndGlyphs">LE</text> <text x="742.70" y="451.2" textLength="50.04" lengthAdjust="spacingAndGlyphs">DROIT</text> <text x="798.60" y="451.2" textLength="21.32" lengthAdjust="spacingAndGlyphs">DE</text> <text x="826.10" y="451.2" textLength="100.71" lengthAdjust="spacingAndGlyphs">L’ABDOMEN</text>
<text x="737.35" y="481.4" textLength="94.72" lengthAdjust="spacingAndGlyphs">SUPÉRIEUR</text> <text x="837.91" y="481.4" textLength="68.55" lengthAdjust="spacingAndGlyphs">GAUCHE</text></g>
</svg>
</body></html>
